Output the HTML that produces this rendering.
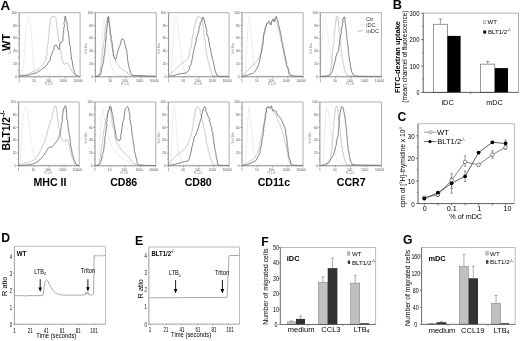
<!DOCTYPE html>
<html><head><meta charset="utf-8"><title>Figure</title>
<style>html,body{margin:0;padding:0;background:#fff;width:520px;height:341px;overflow:hidden}</style>
</head><body>
<svg width="520" height="341" viewBox="0 0 520 341" style="display:block">
<defs><filter id="bl" x="0" y="0" width="100%" height="100%"><feGaussianBlur stdDeviation="0.3"/></filter></defs>
<g font-family='"Liberation Sans", sans-serif' filter="url(#bl)">
<rect width="520" height="341" fill="#fff"/>
<line x1="19.2" y1="12.7" x2="80.1" y2="12.7" stroke="#b0b0b0" stroke-width="1" />
<line x1="80.1" y1="12.7" x2="80.1" y2="76.8" stroke="#b0b0b0" stroke-width="1" />
<path d="M19.50,75.50 C19.92,75.25 21.25,76.58 22.00,74.00 C22.75,71.42 23.33,67.33 24.00,60.00 C24.67,52.67 25.25,37.30 26.00,30.00 C26.75,22.70 27.67,16.20 28.50,16.20 C29.33,16.20 30.25,23.03 31.00,30.00 C31.75,36.97 32.37,50.83 33.00,58.00 C33.63,65.17 34.13,70.08 34.80,73.00 C35.47,75.92 29.63,75.00 37.00,75.50 C44.37,76.00 72.00,75.92 79.00,76.00" fill="none" stroke="#e8e8e8" stroke-width="0.8" stroke-linejoin="round" />
<polyline points="19.50,75.50 20.01,75.44 20.68,75.39 21.49,75.32 22.38,75.28 23.33,75.13 24.29,74.92 25.25,74.80 26.17,74.70 26.98,74.45 27.83,74.10 28.71,73.81 29.57,73.44 30.35,72.92 31.14,72.45 31.97,72.12 32.74,71.76 33.44,71.37 34.34,70.98 35.23,70.69 36.01,70.31 36.71,69.87 37.39,69.47 38.06,69.09 38.90,68.48 39.59,67.84 40.24,67.19 40.93,66.44 41.56,65.96 42.21,65.42 42.67,64.68 43.10,63.91 43.60,63.22 44.08,62.55 44.55,61.87 44.99,61.31 45.42,60.70 45.86,59.84 45.95,58.46 45.91,57.84 46.02,57.19 46.13,56.49 46.36,55.75 46.68,54.98 46.99,54.17 47.28,53.31 47.22,52.39 46.84,51.42 46.89,50.48 47.13,49.54 47.35,48.60 47.54,47.65 47.55,46.69 47.57,45.94 47.67,45.16 47.77,44.36 47.84,43.53 47.91,42.69 48.15,41.85 48.38,41.00 48.35,40.12 48.32,39.24 48.42,38.37 48.49,37.51 48.39,36.65 48.35,35.80 48.65,35.00 48.94,34.23 49.14,33.47 49.34,32.75 49.35,32.04 49.29,31.00 49.25,30.00 49.22,29.03 49.19,28.08 49.28,27.19 49.62,26.36 49.89,25.55 49.99,24.77 50.08,24.02 50.11,23.30 50.14,22.62 50.07,21.96 49.89,20.57 50.38,19.54 50.72,18.69 50.93,17.95 51.26,17.26 52.34,16.52 53.48,16.63 54.25,16.60 55.04,16.61 55.99,17.66 56.07,18.23 56.10,18.81 56.11,19.47 56.03,20.20 55.92,20.97 56.19,21.76 56.57,22.58 56.65,23.47 56.63,24.39 56.61,25.34 56.63,26.29 56.93,27.22 57.21,28.14 57.46,29.05 57.55,29.79 57.45,30.59 57.37,31.42 57.41,32.25 57.53,33.10 58.00,33.91 58.35,34.74 58.30,35.65 58.30,36.54 58.46,37.41 58.52,38.28 58.43,39.16 58.56,40.00 59.02,40.75 59.32,41.51 59.30,42.28 59.28,43.01 59.50,43.67 59.82,44.67 59.91,45.62 59.98,46.52 60.01,47.36 60.06,48.16 60.22,48.90 60.38,49.62 60.49,50.34 60.60,51.05 60.75,51.76 60.93,52.48 61.17,53.37 61.42,54.26 61.49,55.18 61.39,56.12 61.44,57.00 61.56,57.84 61.79,58.62 62.08,59.33 62.33,59.99 62.68,61.11 62.88,62.17 63.07,63.11 63.46,63.79 63.87,64.28 64.70,64.19 65.52,63.53 66.44,63.09 67.36,63.20 67.80,63.60 68.33,64.26 68.76,65.14 69.16,66.07 69.54,66.98 69.92,67.68 70.40,68.35 70.84,69.05 71.21,69.82 71.61,70.58 72.09,71.30 72.61,72.06 73.17,72.87 73.76,73.67 74.37,74.41 75.04,74.99 75.60,75.50 76.54,75.90 77.52,76.01 78.39,76.00 79.00,76.00" fill="none" stroke="#b8b8b8" stroke-width="0.8" stroke-linejoin="round" />
<polyline points="19.50,76.00 20.02,75.96 20.71,75.92 21.52,75.87 22.44,75.82 23.41,75.76 24.42,75.69 25.41,75.61 26.36,75.52 27.24,75.41 28.00,75.30 28.95,75.11 29.82,74.88 30.61,74.56 31.34,74.25 32.04,73.96 32.70,73.68 33.37,73.51 34.43,73.33 35.34,73.17 36.19,72.96 37.00,72.51 37.66,72.04 38.37,71.59 39.09,71.11 39.87,70.70 40.63,70.27 41.23,69.65 41.85,69.04 42.55,68.53 43.28,68.04 44.14,67.66 44.80,67.26 45.23,66.53 45.65,65.80 46.37,65.39 47.07,64.93 47.43,64.14 47.70,63.30 48.25,62.60 48.81,61.85 49.41,61.12 49.92,60.37 50.24,59.60 50.50,58.75 50.56,57.94 50.60,57.15 50.87,56.37 51.22,55.47 51.54,54.73 51.87,53.91 52.05,52.97 52.36,52.05 52.91,51.24 53.43,50.47 53.90,49.75 54.00,48.59 53.89,47.38 54.13,46.37 54.53,45.56 55.12,45.06 56.12,45.10 57.11,45.89 57.37,46.66 57.51,47.78 58.19,48.71 58.70,49.41 58.99,49.57 59.17,49.23 59.32,48.52 59.42,47.58 59.48,46.51 59.49,45.42 59.82,44.46 60.22,43.77 60.62,42.96 61.21,42.47 61.98,42.14 62.80,40.87 62.82,40.27 62.81,39.63 62.94,38.94 63.08,38.18 63.08,37.37 63.00,36.50 62.97,35.61 62.98,34.69 63.34,33.78 63.81,32.87 63.67,31.93 63.58,31.00 63.75,30.10 63.86,29.24 63.79,28.40 63.81,27.61 64.31,26.70 64.51,25.71 64.24,24.65 64.07,23.59 64.00,22.54 64.43,21.58 64.73,20.65 64.79,19.74 64.69,18.88 64.44,18.07 64.34,17.38 64.65,16.88 64.98,16.40 65.70,16.41 65.70,17.94 65.94,19.55 66.18,20.31 66.51,21.12 66.83,21.99 67.13,22.93 67.18,23.97 67.06,24.79 67.23,25.60 67.59,26.43 67.54,27.34 67.29,28.28 67.50,29.15 67.85,29.99 68.07,30.83 68.27,31.65 68.35,32.49 68.41,33.34 68.54,34.19 68.69,35.06 68.78,35.98 68.86,36.82 68.99,37.70 69.12,38.61 69.18,39.54 69.24,40.46 69.27,41.36 69.32,42.22 69.39,43.02 69.58,43.96 69.92,44.79 70.17,45.58 70.28,46.37 70.38,47.19 70.44,48.08 70.49,48.89 70.53,49.72 70.59,50.57 70.68,51.43 70.84,52.29 71.18,53.12 71.31,53.96 71.02,54.82 70.90,55.63 71.24,56.37 71.55,57.13 71.40,58.00 71.32,58.94 71.85,59.89 72.17,60.58 72.26,61.37 72.35,62.22 72.43,63.11 72.53,64.02 72.69,64.92 72.87,65.81 73.08,66.67 73.22,67.51 73.29,68.30 73.43,69.02 73.93,69.97 74.17,70.91 74.26,71.84 74.58,72.63 74.98,73.30 75.30,73.93 75.57,74.53 76.59,75.35 77.65,75.76 78.40,76.00" fill="none" stroke="#585858" stroke-width="0.8" stroke-linejoin="round" />
<line x1="19.2" y1="12.7" x2="19.2" y2="76.8" stroke="#808080" stroke-width="0.9" />
<line x1="19.2" y1="76.8" x2="80.1" y2="76.8" stroke="#808080" stroke-width="0.9" />
<line x1="17.599999999999998" y1="76.8" x2="19.2" y2="76.8" stroke="#777" stroke-width="0.6" />
<text x="16.9" y="77.89999999999999" font-size="3.3" text-anchor="end" fill="#555" >0</text>
<line x1="18.2" y1="70.39" x2="19.2" y2="70.39" stroke="#777" stroke-width="0.6" />
<line x1="17.599999999999998" y1="63.98" x2="19.2" y2="63.98" stroke="#777" stroke-width="0.6" />
<text x="16.9" y="65.08" font-size="3.3" text-anchor="end" fill="#555" >20</text>
<line x1="18.2" y1="57.57" x2="19.2" y2="57.57" stroke="#777" stroke-width="0.6" />
<line x1="17.599999999999998" y1="51.16" x2="19.2" y2="51.16" stroke="#777" stroke-width="0.6" />
<text x="16.9" y="52.26" font-size="3.3" text-anchor="end" fill="#555" >40</text>
<line x1="18.2" y1="44.75" x2="19.2" y2="44.75" stroke="#777" stroke-width="0.6" />
<line x1="17.599999999999998" y1="38.34" x2="19.2" y2="38.34" stroke="#777" stroke-width="0.6" />
<text x="16.9" y="39.440000000000005" font-size="3.3" text-anchor="end" fill="#555" >60</text>
<line x1="18.2" y1="31.930000000000007" x2="19.2" y2="31.930000000000007" stroke="#777" stroke-width="0.6" />
<line x1="17.599999999999998" y1="25.520000000000003" x2="19.2" y2="25.520000000000003" stroke="#777" stroke-width="0.6" />
<text x="16.9" y="26.620000000000005" font-size="3.3" text-anchor="end" fill="#555" >80</text>
<line x1="18.2" y1="19.11" x2="19.2" y2="19.11" stroke="#777" stroke-width="0.6" />
<line x1="17.599999999999998" y1="12.700000000000003" x2="19.2" y2="12.700000000000003" stroke="#777" stroke-width="0.6" />
<text x="16.9" y="13.800000000000002" font-size="3.3" text-anchor="end" fill="#555" >100</text>
<line x1="19.2" y1="76.8" x2="19.2" y2="78.3" stroke="#777" stroke-width="0.6" />
<text x="19.2" y="82.0" font-size="3.3" text-anchor="middle" fill="#555" >1</text>
<line x1="34.425" y1="76.8" x2="34.425" y2="78.3" stroke="#777" stroke-width="0.6" />
<text x="33.925" y="82.0" font-size="3.3" text-anchor="middle" fill="#555" >10</text>
<line x1="49.64999999999999" y1="76.8" x2="49.64999999999999" y2="78.3" stroke="#777" stroke-width="0.6" />
<text x="48.64999999999999" y="82.0" font-size="3.3" text-anchor="middle" fill="#555" >100</text>
<line x1="64.875" y1="76.8" x2="64.875" y2="78.3" stroke="#777" stroke-width="0.6" />
<text x="63.375" y="82.0" font-size="3.3" text-anchor="middle" fill="#555" >1000</text>
<line x1="80.1" y1="76.8" x2="80.1" y2="78.3" stroke="#777" stroke-width="0.6" />
<text x="78.1" y="82.0" font-size="3.3" text-anchor="middle" fill="#555" >10000</text>
<text x="48.65" y="84.8" font-size="2.8" text-anchor="middle" fill="#888" >FL1-H</text>
<text x="0" y="0" font-size="2.8" text-anchor="middle" fill="#888" transform="translate(10.7,48.75) rotate(-90)" >% of Max</text>
<line x1="95.3" y1="12.7" x2="156.3" y2="12.7" stroke="#b0b0b0" stroke-width="1" />
<line x1="156.3" y1="12.7" x2="156.3" y2="76.8" stroke="#b0b0b0" stroke-width="1" />
<path d="M95.50,76.00 C96.08,75.83 98.17,76.00 99.00,75.00 C99.83,74.00 100.00,75.83 100.50,70.00 C101.00,64.17 101.47,48.50 102.00,40.00 C102.53,31.50 103.12,20.67 103.70,19.00 C104.28,17.33 104.78,24.83 105.50,30.00 C106.22,35.17 107.08,44.33 108.00,50.00 C108.92,55.67 109.95,60.25 111.00,64.00 C112.05,67.75 113.13,70.58 114.30,72.50 C115.47,74.42 111.05,74.92 118.00,75.50 C124.95,76.08 149.67,75.92 156.00,76.00" fill="none" stroke="#e8e8e8" stroke-width="0.8" stroke-linejoin="round" />
<polyline points="95.50,76.00 96.17,76.21 97.15,76.59 98.20,76.55 99.10,75.50 99.29,75.06 99.39,74.52 99.51,73.94 99.62,73.30 99.78,72.62 100.01,71.90 100.22,71.14 100.35,70.32 100.48,69.47 100.65,68.59 100.79,67.69 100.84,66.75 101.00,65.82 101.29,64.89 101.41,63.93 101.47,62.97 101.78,62.04 102.02,61.34 102.00,60.58 101.95,59.80 101.99,59.01 102.06,58.21 102.21,57.40 102.42,56.58 102.54,55.74 102.59,54.88 102.58,54.01 102.51,53.13 102.63,52.27 102.89,51.42 102.95,50.55 102.89,49.67 103.07,48.83 103.36,48.00 103.39,47.16 103.29,46.32 103.38,45.51 103.56,44.73 103.64,43.95 103.61,43.19 103.69,42.29 103.92,41.41 104.16,40.54 104.39,39.67 104.52,38.79 104.60,37.92 104.54,37.04 104.42,36.17 104.39,35.32 104.40,34.48 104.61,33.69 104.94,32.92 105.07,32.16 105.01,31.39 104.98,30.64 105.06,29.94 105.13,29.25 105.34,28.61 105.56,28.01 105.67,26.89 105.52,25.81 105.94,24.89 106.35,24.06 106.53,23.26 106.71,22.52 106.75,21.82 106.78,21.16 106.83,20.54 106.89,19.97 107.32,18.27 107.95,17.26 108.28,17.54 108.27,17.86 108.30,18.37 108.58,18.95 108.89,19.64 109.01,20.49 109.00,21.45 109.31,22.46 109.63,23.55 109.79,24.75 109.95,26.01 110.03,26.65 110.13,27.34 110.22,28.07 110.30,28.84 110.38,29.65 110.42,30.49 110.45,31.35 110.50,32.24 110.55,33.14 110.77,34.03 111.04,34.92 111.26,35.81 111.46,36.70 111.52,37.60 111.59,38.48 111.71,39.34 111.85,40.17 112.06,40.96 112.27,41.72 112.17,42.48 112.07,43.19 112.22,44.24 112.42,45.24 112.25,46.24 112.26,47.18 112.67,48.01 113.00,48.82 113.22,49.62 113.36,50.39 113.33,51.18 113.32,51.93 113.48,52.64 113.65,53.32 113.75,54.01 113.86,55.08 114.11,56.04 114.37,56.93 114.41,57.80 114.48,58.63 114.90,59.33 115.32,59.98 115.56,60.68 115.85,61.59 116.29,62.36 116.77,63.06 117.22,63.73 117.65,64.36 118.10,64.93 118.72,65.68 119.12,66.42 119.52,67.17 120.22,67.78 120.99,68.21 121.69,68.84 122.42,69.53 123.22,70.06 123.97,70.55 124.78,71.05 125.54,71.43 126.37,71.76 127.26,72.32 127.62,72.80 127.79,73.31 128.05,73.80 128.46,74.28 129.12,74.72 130.19,75.20 131.90,75.50 132.41,75.56 132.99,75.61 133.63,75.66 134.33,75.70 135.07,75.74 135.86,75.77 136.70,75.81 137.56,75.83 138.46,75.86 139.39,75.88 140.34,75.90 141.30,75.91 142.28,75.92 143.26,75.93 144.24,75.94 145.23,75.95 146.20,75.96 147.16,75.96 148.11,75.96 149.03,75.97 149.93,75.97 150.80,75.97 151.62,75.97 152.41,75.97 153.15,75.98 153.84,75.98 154.48,75.98 155.05,75.99 155.56,75.99 156.00,76.00" fill="none" stroke="#b8b8b8" stroke-width="0.8" stroke-linejoin="round" />
<polyline points="95.50,76.40 96.17,76.32 97.11,76.19 98.00,76.00 99.11,75.54 99.96,74.96 100.70,73.85 100.82,73.28 101.03,72.56 101.27,71.72 101.39,70.78 101.49,69.79 101.64,68.80 101.85,67.85 102.17,66.99 102.42,66.19 102.60,65.40 102.81,64.64 103.04,63.87 103.23,63.08 103.29,62.23 103.40,61.33 103.66,60.39 103.81,59.65 103.91,58.87 103.96,58.05 103.91,57.19 103.94,56.32 104.25,55.47 104.47,54.59 104.53,53.69 104.71,52.80 105.04,51.93 105.09,51.04 104.93,50.20 104.88,49.37 104.92,48.54 105.05,47.71 105.28,46.89 105.39,46.06 105.34,45.21 105.38,44.36 105.54,43.53 105.60,42.69 105.52,41.84 105.54,40.99 105.69,40.16 105.86,39.33 106.05,38.50 106.18,37.65 106.22,36.80 106.26,35.95 106.27,35.10 106.24,34.26 106.17,33.41 106.21,32.59 106.49,31.80 106.71,31.01 106.74,30.14 106.82,29.26 106.99,28.38 107.11,27.51 107.12,26.64 107.20,25.79 107.41,24.97 107.52,24.18 107.45,23.40 107.40,22.67 107.52,22.00 107.75,20.77 108.02,19.51 107.87,18.30 107.87,17.33 108.13,16.74 108.63,16.64 108.77,17.02 108.82,17.53 108.94,18.19 109.05,19.00 108.79,19.96 108.55,20.99 109.03,21.99 109.26,23.02 109.23,24.06 109.31,25.02 109.40,25.80 109.59,26.60 109.79,27.41 110.04,28.25 110.30,29.09 110.10,29.99 109.82,30.90 110.04,31.76 110.32,32.62 110.26,33.50 110.21,34.38 110.58,35.19 110.95,35.99 110.95,36.83 110.96,37.67 110.87,38.52 110.79,39.37 110.89,40.19 111.00,41.01 111.41,41.78 111.87,42.53 112.07,43.33 112.20,44.14 112.21,44.97 112.18,45.82 112.19,46.69 112.22,47.58 112.36,48.46 112.55,49.33 112.67,50.21 112.77,51.06 113.00,51.86 113.25,52.61 113.29,53.34 113.27,54.02 113.27,54.63 113.50,55.99 113.91,56.85 114.32,57.42 114.71,57.95 115.43,59.13 115.82,59.19 115.91,58.91 116.16,58.31 116.49,57.57 116.78,56.70 116.69,55.69 116.81,54.71 117.21,53.82 117.42,52.98 117.54,52.14 117.79,51.30 118.11,50.47 118.36,49.63 118.57,48.82 118.80,48.06 119.02,47.38 119.24,46.81 119.76,45.89 120.05,45.37 120.21,44.57 120.33,43.80 120.68,42.98 121.04,42.12 121.13,41.23 121.27,40.48 121.95,39.04 122.80,38.67 123.07,39.13 123.49,39.80 124.24,40.57 124.48,41.53 124.40,42.47 124.58,43.38 124.80,44.23 125.17,45.05 125.58,45.93 125.60,46.73 125.62,47.52 125.88,48.30 126.20,49.16 126.65,50.13 126.97,50.83 126.89,51.65 126.78,52.53 126.97,53.39 127.20,54.27 127.28,55.19 127.37,56.10 127.46,56.99 127.53,57.78 127.50,58.60 127.48,59.41 127.69,60.21 127.89,61.01 128.02,61.82 128.14,62.62 128.24,63.42 128.34,64.21 128.65,65.07 129.03,65.94 128.99,66.90 128.97,67.85 129.36,68.68 129.70,69.48 129.81,70.29 129.95,71.02 130.39,71.98 130.76,72.83 131.07,73.58 131.45,74.22 131.94,74.74 132.58,75.13 133.33,75.38 134.18,75.49 135.07,75.55 136.00,75.60 136.81,75.63 137.67,75.60 138.56,75.56 139.46,75.51 140.34,75.48 141.20,75.50 141.96,75.58 142.64,75.69 143.30,75.83 144.03,75.97 144.90,76.10 146.00,76.20 146.68,76.23 147.48,76.26 148.37,76.29 149.32,76.31 150.30,76.33 151.30,76.34 152.28,76.36 153.21,76.37 154.08,76.38 154.85,76.38 155.50,76.39 156.00,76.40" fill="none" stroke="#585858" stroke-width="0.8" stroke-linejoin="round" />
<line x1="95.3" y1="12.7" x2="95.3" y2="76.8" stroke="#808080" stroke-width="0.9" />
<line x1="95.3" y1="76.8" x2="156.3" y2="76.8" stroke="#808080" stroke-width="0.9" />
<line x1="93.7" y1="76.8" x2="95.3" y2="76.8" stroke="#777" stroke-width="0.6" />
<text x="93.0" y="77.89999999999999" font-size="3.3" text-anchor="end" fill="#555" >0</text>
<line x1="94.3" y1="70.39" x2="95.3" y2="70.39" stroke="#777" stroke-width="0.6" />
<line x1="93.7" y1="63.98" x2="95.3" y2="63.98" stroke="#777" stroke-width="0.6" />
<text x="93.0" y="65.08" font-size="3.3" text-anchor="end" fill="#555" >20</text>
<line x1="94.3" y1="57.57" x2="95.3" y2="57.57" stroke="#777" stroke-width="0.6" />
<line x1="93.7" y1="51.16" x2="95.3" y2="51.16" stroke="#777" stroke-width="0.6" />
<text x="93.0" y="52.26" font-size="3.3" text-anchor="end" fill="#555" >40</text>
<line x1="94.3" y1="44.75" x2="95.3" y2="44.75" stroke="#777" stroke-width="0.6" />
<line x1="93.7" y1="38.34" x2="95.3" y2="38.34" stroke="#777" stroke-width="0.6" />
<text x="93.0" y="39.440000000000005" font-size="3.3" text-anchor="end" fill="#555" >60</text>
<line x1="94.3" y1="31.930000000000007" x2="95.3" y2="31.930000000000007" stroke="#777" stroke-width="0.6" />
<line x1="93.7" y1="25.520000000000003" x2="95.3" y2="25.520000000000003" stroke="#777" stroke-width="0.6" />
<text x="93.0" y="26.620000000000005" font-size="3.3" text-anchor="end" fill="#555" >80</text>
<line x1="94.3" y1="19.11" x2="95.3" y2="19.11" stroke="#777" stroke-width="0.6" />
<line x1="93.7" y1="12.700000000000003" x2="95.3" y2="12.700000000000003" stroke="#777" stroke-width="0.6" />
<text x="93.0" y="13.800000000000002" font-size="3.3" text-anchor="end" fill="#555" >100</text>
<line x1="95.3" y1="76.8" x2="95.3" y2="78.3" stroke="#777" stroke-width="0.6" />
<text x="95.3" y="82.0" font-size="3.3" text-anchor="middle" fill="#555" >1</text>
<line x1="110.55" y1="76.8" x2="110.55" y2="78.3" stroke="#777" stroke-width="0.6" />
<text x="110.05" y="82.0" font-size="3.3" text-anchor="middle" fill="#555" >10</text>
<line x1="125.80000000000001" y1="76.8" x2="125.80000000000001" y2="78.3" stroke="#777" stroke-width="0.6" />
<text x="124.80000000000001" y="82.0" font-size="3.3" text-anchor="middle" fill="#555" >100</text>
<line x1="141.05" y1="76.8" x2="141.05" y2="78.3" stroke="#777" stroke-width="0.6" />
<text x="139.55" y="82.0" font-size="3.3" text-anchor="middle" fill="#555" >1000</text>
<line x1="156.3" y1="76.8" x2="156.3" y2="78.3" stroke="#777" stroke-width="0.6" />
<text x="154.3" y="82.0" font-size="3.3" text-anchor="middle" fill="#555" >10000</text>
<text x="124.80000000000001" y="84.8" font-size="2.8" text-anchor="middle" fill="#888" >FL1-H</text>
<text x="0" y="0" font-size="2.8" text-anchor="middle" fill="#888" transform="translate(86.8,48.75) rotate(-90)" >% of Max</text>
<line x1="168.6" y1="12.7" x2="229.0" y2="12.7" stroke="#b0b0b0" stroke-width="1" />
<line x1="229.0" y1="12.7" x2="229.0" y2="76.8" stroke="#b0b0b0" stroke-width="1" />
<path d="M168.80,76.00 C169.08,75.67 169.97,76.67 170.50,74.00 C171.03,71.33 171.50,66.50 172.00,60.00 C172.50,53.50 173.00,41.67 173.50,35.00 C174.00,28.33 174.50,23.00 175.00,20.00 C175.50,17.00 176.00,16.17 176.50,17.00 C177.00,17.83 177.42,20.33 178.00,25.00 C178.58,29.67 179.33,39.17 180.00,45.00 C180.67,50.83 181.33,56.00 182.00,60.00 C182.67,64.00 183.17,66.67 184.00,69.00 C184.83,71.33 186.00,72.83 187.00,74.00 C188.00,75.17 183.00,75.67 190.00,76.00 C197.00,76.33 222.50,76.00 229.00,76.00" fill="none" stroke="#e8e8e8" stroke-width="0.8" stroke-linejoin="round" />
<polyline points="168.80,75.50 169.22,75.12 169.73,74.50 170.35,73.79 171.06,73.06 171.62,72.64 172.25,72.23 172.88,71.73 173.50,71.13 174.20,70.55 174.95,69.94 175.52,69.39 176.11,68.76 176.75,68.09 177.41,67.41 178.18,66.84 178.91,66.27 179.49,65.62 180.03,65.03 180.70,64.31 181.40,63.69 182.11,63.17 182.81,62.75 183.50,62.45 184.11,62.16 184.80,61.40 185.29,60.87 185.90,60.40 186.44,59.93 187.01,59.45 187.58,58.86 188.13,58.06 188.47,57.41 188.76,56.67 189.02,55.85 189.16,54.95 189.21,53.97 189.34,52.96 189.45,52.17 189.64,51.36 189.84,50.52 190.17,49.67 190.52,48.80 190.69,47.88 190.88,46.95 191.18,46.04 191.40,45.29 191.52,44.51 191.64,43.71 191.82,42.91 191.98,42.11 191.91,41.25 191.82,40.39 191.96,39.57 192.10,38.76 192.36,37.97 192.63,37.20 192.84,36.41 193.04,35.62 193.10,34.80 193.11,33.97 193.38,33.20 193.77,32.44 193.82,31.62 193.62,30.76 193.68,29.94 194.02,29.16 194.23,28.33 194.27,27.46 194.45,26.61 194.78,25.79 195.02,24.97 195.18,24.17 195.29,23.39 195.34,22.66 195.42,21.98 195.84,20.82 196.27,19.80 196.69,18.94 196.77,18.12 196.93,17.42 197.97,16.81 199.04,16.98 199.90,17.11 200.70,17.84 200.98,18.52 201.22,19.33 201.63,20.18 202.02,21.06 202.39,21.87 202.65,22.53 202.63,23.15 202.57,23.83 202.75,24.69 203.35,25.94 203.53,26.50 203.72,27.12 203.74,27.83 203.51,28.61 203.39,29.42 203.71,30.21 203.96,31.03 203.84,31.93 203.75,32.83 203.78,33.73 203.92,34.61 204.30,35.46 204.57,36.31 204.69,37.15 204.70,37.98 204.54,38.82 204.56,39.65 204.98,40.45 205.29,41.27 205.33,42.13 205.37,42.98 205.43,43.83 205.49,44.68 205.59,45.50 205.63,46.32 205.52,47.13 205.46,47.92 205.69,48.64 205.91,49.33 206.14,49.98 206.51,50.98 206.39,51.98 206.23,52.92 206.48,53.74 206.72,54.51 206.96,55.25 207.19,55.98 207.25,56.75 207.26,57.55 207.43,58.42 207.70,59.26 207.92,60.09 208.13,60.90 208.39,61.69 208.69,62.45 208.89,63.22 209.03,63.99 209.17,64.86 209.27,65.72 209.46,66.53 209.73,67.30 210.01,68.05 210.28,68.78 210.54,69.49 210.92,70.47 211.17,71.46 211.34,72.44 211.63,73.29 211.98,74.01 212.10,74.93 212.35,75.56 214.00,76.00 214.53,76.06 215.18,76.10 215.92,76.14 216.75,76.17 217.64,76.19 218.59,76.21 219.58,76.22 220.60,76.22 221.62,76.23 222.65,76.22 223.66,76.22 224.63,76.21 225.56,76.21 226.43,76.20 227.22,76.20 227.92,76.20 228.52,76.20 229.00,76.20" fill="none" stroke="#b8b8b8" stroke-width="0.8" stroke-linejoin="round" />
<polyline points="168.80,76.40 169.38,76.31 170.19,76.18 171.15,76.02 172.16,75.86 173.14,75.68 174.00,75.50 174.89,75.33 175.70,75.07 176.44,74.70 177.18,74.38 177.98,74.21 178.79,74.08 179.59,73.92 180.39,73.77 181.18,73.63 181.98,73.48 182.80,73.38 183.64,73.33 184.46,73.26 185.25,73.12 185.98,72.85 186.67,72.43 187.31,71.86 187.89,71.20 188.48,70.56 189.03,69.92 189.38,69.19 189.59,68.40 189.65,67.56 189.65,66.69 190.00,65.91 190.60,65.23 190.95,64.50 191.09,63.68 191.26,62.81 191.48,61.87 191.69,61.13 191.96,60.35 192.17,59.52 192.34,58.65 192.49,57.76 192.65,56.87 192.74,55.99 192.81,55.11 193.05,54.25 193.33,53.39 193.33,52.49 193.31,51.57 193.81,50.76 194.30,49.97 194.19,49.05 194.14,48.13 194.48,47.32 194.80,46.51 195.05,45.68 195.30,44.85 195.53,44.01 195.74,43.16 195.88,42.29 196.07,41.43 196.36,40.59 196.41,39.70 196.07,38.71 196.18,37.83 196.84,37.08 197.26,36.27 197.46,35.41 197.65,34.55 197.83,33.68 198.22,32.87 198.71,32.08 198.72,31.16 198.58,30.19 198.85,29.33 199.20,28.49 199.13,27.56 199.10,26.65 199.62,25.93 200.16,25.10 200.12,24.14 200.15,23.23 200.41,22.40 200.79,21.65 201.57,21.05 202.25,20.15 202.23,18.96 202.37,17.93 202.58,17.19 202.91,16.96 203.17,17.29 203.40,17.96 203.80,18.84 204.36,19.82 204.54,20.91 204.64,21.94 204.65,22.79 204.90,23.59 205.49,24.34 205.73,25.19 205.58,26.16 205.83,27.05 206.35,27.90 206.42,28.75 206.34,29.67 206.61,30.53 206.97,31.38 206.80,32.35 206.59,33.33 206.89,34.19 207.20,35.04 207.60,35.86 207.99,36.68 208.36,37.50 208.63,38.34 208.66,39.23 208.72,40.12 208.81,41.01 209.00,41.88 209.28,42.64 209.45,43.42 209.47,44.24 209.51,45.07 209.59,45.88 209.72,46.68 210.00,47.45 210.28,48.21 210.49,48.98 210.71,49.84 210.75,50.74 210.83,51.62 211.14,52.45 211.40,53.29 211.47,54.18 211.59,55.05 211.91,55.90 212.11,56.67 212.09,57.50 212.14,58.31 212.48,59.07 212.82,59.83 213.05,60.61 213.28,61.39 213.35,62.19 213.42,63.00 213.65,63.87 213.89,64.76 214.10,65.66 214.28,66.55 214.39,67.44 214.51,68.31 214.65,69.14 214.85,69.92 215.39,70.82 215.74,71.76 215.92,72.71 216.23,73.55 216.58,74.28 216.93,74.89 217.30,75.71 217.71,76.13 219.00,76.40 219.59,76.46 220.33,76.51 221.18,76.55 222.12,76.57 223.11,76.59 224.13,76.59 225.14,76.60 226.11,76.60 227.02,76.59 227.82,76.59 228.49,76.59 229.00,76.60" fill="none" stroke="#585858" stroke-width="0.8" stroke-linejoin="round" />
<line x1="168.6" y1="12.7" x2="168.6" y2="76.8" stroke="#808080" stroke-width="0.9" />
<line x1="168.6" y1="76.8" x2="229.0" y2="76.8" stroke="#808080" stroke-width="0.9" />
<line x1="167.0" y1="76.8" x2="168.6" y2="76.8" stroke="#777" stroke-width="0.6" />
<text x="166.29999999999998" y="77.89999999999999" font-size="3.3" text-anchor="end" fill="#555" >0</text>
<line x1="167.6" y1="70.39" x2="168.6" y2="70.39" stroke="#777" stroke-width="0.6" />
<line x1="167.0" y1="63.98" x2="168.6" y2="63.98" stroke="#777" stroke-width="0.6" />
<text x="166.29999999999998" y="65.08" font-size="3.3" text-anchor="end" fill="#555" >20</text>
<line x1="167.6" y1="57.57" x2="168.6" y2="57.57" stroke="#777" stroke-width="0.6" />
<line x1="167.0" y1="51.16" x2="168.6" y2="51.16" stroke="#777" stroke-width="0.6" />
<text x="166.29999999999998" y="52.26" font-size="3.3" text-anchor="end" fill="#555" >40</text>
<line x1="167.6" y1="44.75" x2="168.6" y2="44.75" stroke="#777" stroke-width="0.6" />
<line x1="167.0" y1="38.34" x2="168.6" y2="38.34" stroke="#777" stroke-width="0.6" />
<text x="166.29999999999998" y="39.440000000000005" font-size="3.3" text-anchor="end" fill="#555" >60</text>
<line x1="167.6" y1="31.930000000000007" x2="168.6" y2="31.930000000000007" stroke="#777" stroke-width="0.6" />
<line x1="167.0" y1="25.520000000000003" x2="168.6" y2="25.520000000000003" stroke="#777" stroke-width="0.6" />
<text x="166.29999999999998" y="26.620000000000005" font-size="3.3" text-anchor="end" fill="#555" >80</text>
<line x1="167.6" y1="19.11" x2="168.6" y2="19.11" stroke="#777" stroke-width="0.6" />
<line x1="167.0" y1="12.700000000000003" x2="168.6" y2="12.700000000000003" stroke="#777" stroke-width="0.6" />
<text x="166.29999999999998" y="13.800000000000002" font-size="3.3" text-anchor="end" fill="#555" >100</text>
<line x1="168.6" y1="76.8" x2="168.6" y2="78.3" stroke="#777" stroke-width="0.6" />
<text x="168.6" y="82.0" font-size="3.3" text-anchor="middle" fill="#555" >1</text>
<line x1="183.7" y1="76.8" x2="183.7" y2="78.3" stroke="#777" stroke-width="0.6" />
<text x="183.2" y="82.0" font-size="3.3" text-anchor="middle" fill="#555" >10</text>
<line x1="198.8" y1="76.8" x2="198.8" y2="78.3" stroke="#777" stroke-width="0.6" />
<text x="197.8" y="82.0" font-size="3.3" text-anchor="middle" fill="#555" >100</text>
<line x1="213.9" y1="76.8" x2="213.9" y2="78.3" stroke="#777" stroke-width="0.6" />
<text x="212.4" y="82.0" font-size="3.3" text-anchor="middle" fill="#555" >1000</text>
<line x1="229.0" y1="76.8" x2="229.0" y2="78.3" stroke="#777" stroke-width="0.6" />
<text x="227.0" y="82.0" font-size="3.3" text-anchor="middle" fill="#555" >10000</text>
<text x="197.8" y="84.8" font-size="2.8" text-anchor="middle" fill="#888" >FL1-H</text>
<text x="0" y="0" font-size="2.8" text-anchor="middle" fill="#888" transform="translate(160.1,48.75) rotate(-90)" >% of Max</text>
<line x1="242.0" y1="12.7" x2="303.1" y2="12.7" stroke="#b0b0b0" stroke-width="1" />
<line x1="303.1" y1="12.7" x2="303.1" y2="76.8" stroke="#b0b0b0" stroke-width="1" />
<path d="M242.30,76.00 C242.75,75.67 244.30,77.50 245.00,74.00 C245.70,70.50 246.00,63.17 246.50,55.00 C247.00,46.83 247.57,31.47 248.00,25.00 C248.43,18.53 248.68,16.20 249.10,16.20 C249.52,16.20 250.02,20.20 250.50,25.00 C250.98,29.80 251.42,38.67 252.00,45.00 C252.58,51.33 253.33,58.50 254.00,63.00 C254.67,67.50 255.17,69.92 256.00,72.00 C256.83,74.08 251.17,74.83 259.00,75.50 C266.83,76.17 295.67,75.92 303.00,76.00" fill="none" stroke="#e8e8e8" stroke-width="0.8" stroke-linejoin="round" />
<polyline points="242.30,75.50 242.82,75.10 243.46,74.43 244.22,73.70 244.96,72.96 245.47,72.36 246.01,71.76 246.66,71.24 247.34,70.68 248.03,70.03 248.55,69.51 249.07,68.93 249.60,68.32 250.20,67.73 250.80,67.14 251.32,66.48 251.84,65.84 252.57,65.40 253.35,64.98 253.92,64.34 254.47,63.69 255.01,63.07 255.50,62.49 255.99,61.99 256.71,61.26 257.20,60.55 257.60,59.83 258.04,59.02 258.43,58.32 258.82,57.61 259.21,56.85 259.62,56.00 260.02,55.01 260.26,54.29 260.50,53.51 260.73,52.67 260.95,51.78 261.13,50.86 261.30,49.92 261.43,48.96 261.62,48.02 261.82,47.27 261.95,46.49 261.99,45.68 262.01,44.86 262.01,44.02 262.05,43.18 262.21,42.37 262.42,41.57 262.83,40.80 263.16,40.03 263.02,39.17 262.92,38.30 263.17,37.49 263.42,36.67 263.66,35.86 263.91,35.06 264.17,34.28 264.43,33.52 264.26,32.70 264.08,31.91 264.30,30.92 264.64,29.99 264.90,29.07 265.15,28.20 265.37,27.38 265.61,26.63 265.91,25.97 266.40,24.99 266.88,24.22 267.30,23.62 267.59,23.17 268.94,22.92 269.23,23.86 270.40,24.53 271.30,23.81 271.44,22.72 271.70,21.77 272.46,20.87 273.37,20.25 274.99,19.92 275.56,20.31 276.02,21.01 276.29,22.10 276.50,22.74 276.80,23.47 277.08,24.30 277.30,25.20 277.61,26.11 277.98,27.00 278.17,27.81 278.33,28.64 278.54,29.48 278.76,30.33 279.04,31.19 279.34,32.07 279.45,33.01 279.57,33.85 280.00,34.65 280.35,35.49 280.24,36.44 280.22,37.38 280.46,38.26 280.55,39.17 280.47,40.11 280.72,40.98 281.26,41.77 281.69,42.60 282.05,43.44 282.20,44.32 282.28,45.22 282.41,46.10 282.55,46.99 282.79,47.85 283.04,48.71 283.28,49.58 283.49,50.45 283.59,51.34 283.73,52.23 284.02,53.08 284.19,53.96 284.12,54.90 284.29,55.79 284.74,56.63 284.91,57.53 284.89,58.46 285.00,59.35 285.15,60.21 285.37,61.03 285.64,61.94 285.79,62.85 285.93,63.75 286.23,64.58 286.51,65.40 286.69,66.23 286.88,67.03 287.27,67.90 287.62,68.76 287.89,69.61 288.14,70.44 288.34,71.23 288.56,71.99 288.61,73.04 288.49,74.02 288.76,74.90 290.00,75.50 290.52,75.63 291.16,75.73 291.91,75.83 292.75,75.91 293.65,75.98 294.60,76.03 295.59,76.08 296.59,76.12 297.59,76.15 298.57,76.18 299.51,76.20 300.39,76.22 301.20,76.24 301.92,76.26 302.52,76.28 303.00,76.30" fill="none" stroke="#b8b8b8" stroke-width="0.8" stroke-linejoin="round" />
<polyline points="242.30,76.40 242.98,76.29 243.96,76.12 245.04,75.93 246.00,75.70 246.78,75.44 247.51,75.23 248.21,74.86 248.99,74.47 249.76,74.20 250.62,73.95 251.54,73.78 252.39,73.51 253.05,73.08 253.82,72.42 254.41,71.76 255.02,71.02 255.58,70.38 256.14,69.66 256.67,68.89 257.09,68.05 257.41,67.18 257.82,66.36 258.21,65.49 258.42,64.47 258.67,63.62 259.03,62.76 259.37,61.86 259.65,60.92 259.84,59.96 259.95,59.14 260.10,58.31 260.23,57.48 260.37,56.63 260.51,55.78 260.80,54.96 261.10,54.18 261.29,53.40 261.46,52.62 261.62,51.80 261.77,50.94 261.97,49.99 262.13,49.22 262.13,48.37 262.08,47.48 262.33,46.60 262.61,45.71 262.77,44.80 262.94,43.90 263.14,43.02 263.25,42.13 263.16,41.19 263.19,40.26 263.37,39.36 263.39,38.45 263.30,37.54 263.48,36.72 263.78,35.96 263.88,35.00 263.81,34.08 263.99,33.27 264.25,32.50 264.65,31.77 265.15,31.03 265.20,30.16 264.87,29.20 265.13,28.35 265.72,27.57 265.98,26.79 266.12,26.04 266.36,24.98 266.64,24.00 267.14,23.22 267.62,22.58 268.39,21.52 268.94,21.20 269.27,21.91 269.93,23.03 270.61,24.29 271.03,24.83 271.08,24.43 271.33,23.49 271.52,22.38 271.75,21.42 272.26,20.42 272.60,19.46 273.00,18.83 273.59,19.41 273.65,20.55 274.13,21.54 274.40,21.72 274.32,21.12 274.83,19.99 275.20,18.92 275.47,17.40 276.15,16.43 276.98,17.22 276.70,18.13 276.57,19.15 277.59,19.94 278.01,20.85 277.95,21.71 278.10,22.56 278.40,23.40 278.46,24.31 278.39,25.26 278.92,26.02 279.64,26.74 279.60,27.62 279.33,28.54 279.58,29.35 279.98,30.14 280.14,30.97 280.23,31.82 280.43,32.65 280.66,33.47 280.71,34.32 280.71,35.19 281.01,36.00 281.41,36.79 281.52,37.63 281.55,38.49 281.65,39.34 281.76,40.18 281.77,41.05 281.76,41.92 282.28,42.68 282.96,43.41 282.88,44.29 282.58,45.22 282.69,46.06 282.93,46.88 283.24,47.69 283.57,48.49 283.71,49.33 283.79,50.18 284.00,51.00 284.25,51.82 284.26,52.68 284.21,53.56 284.44,54.38 284.75,55.18 284.99,56.00 285.20,56.83 285.38,57.66 285.54,58.49 285.71,59.33 285.87,60.16 286.04,60.99 286.19,61.83 286.39,62.67 286.61,63.51 286.58,64.38 286.52,65.26 286.91,66.02 287.54,66.87 287.98,67.75 288.34,68.63 288.38,69.60 288.52,70.49 288.86,71.47 289.15,72.41 289.49,73.27 289.99,74.01 290.49,74.63 290.98,75.17 291.72,75.63 293.00,76.00 293.62,76.10 294.38,76.19 295.24,76.26 296.19,76.33 297.18,76.38 298.19,76.42 299.19,76.46 300.15,76.50 301.04,76.53 301.83,76.55 302.49,76.58 303.00,76.60" fill="none" stroke="#585858" stroke-width="0.8" stroke-linejoin="round" />
<line x1="242.0" y1="12.7" x2="242.0" y2="76.8" stroke="#808080" stroke-width="0.9" />
<line x1="242.0" y1="76.8" x2="303.1" y2="76.8" stroke="#808080" stroke-width="0.9" />
<line x1="240.4" y1="76.8" x2="242.0" y2="76.8" stroke="#777" stroke-width="0.6" />
<text x="239.7" y="77.89999999999999" font-size="3.3" text-anchor="end" fill="#555" >0</text>
<line x1="241.0" y1="70.39" x2="242.0" y2="70.39" stroke="#777" stroke-width="0.6" />
<line x1="240.4" y1="63.98" x2="242.0" y2="63.98" stroke="#777" stroke-width="0.6" />
<text x="239.7" y="65.08" font-size="3.3" text-anchor="end" fill="#555" >20</text>
<line x1="241.0" y1="57.57" x2="242.0" y2="57.57" stroke="#777" stroke-width="0.6" />
<line x1="240.4" y1="51.16" x2="242.0" y2="51.16" stroke="#777" stroke-width="0.6" />
<text x="239.7" y="52.26" font-size="3.3" text-anchor="end" fill="#555" >40</text>
<line x1="241.0" y1="44.75" x2="242.0" y2="44.75" stroke="#777" stroke-width="0.6" />
<line x1="240.4" y1="38.34" x2="242.0" y2="38.34" stroke="#777" stroke-width="0.6" />
<text x="239.7" y="39.440000000000005" font-size="3.3" text-anchor="end" fill="#555" >60</text>
<line x1="241.0" y1="31.930000000000007" x2="242.0" y2="31.930000000000007" stroke="#777" stroke-width="0.6" />
<line x1="240.4" y1="25.520000000000003" x2="242.0" y2="25.520000000000003" stroke="#777" stroke-width="0.6" />
<text x="239.7" y="26.620000000000005" font-size="3.3" text-anchor="end" fill="#555" >80</text>
<line x1="241.0" y1="19.11" x2="242.0" y2="19.11" stroke="#777" stroke-width="0.6" />
<line x1="240.4" y1="12.700000000000003" x2="242.0" y2="12.700000000000003" stroke="#777" stroke-width="0.6" />
<text x="239.7" y="13.800000000000002" font-size="3.3" text-anchor="end" fill="#555" >100</text>
<line x1="242.0" y1="76.8" x2="242.0" y2="78.3" stroke="#777" stroke-width="0.6" />
<text x="242.0" y="82.0" font-size="3.3" text-anchor="middle" fill="#555" >1</text>
<line x1="257.275" y1="76.8" x2="257.275" y2="78.3" stroke="#777" stroke-width="0.6" />
<text x="256.775" y="82.0" font-size="3.3" text-anchor="middle" fill="#555" >10</text>
<line x1="272.55" y1="76.8" x2="272.55" y2="78.3" stroke="#777" stroke-width="0.6" />
<text x="271.55" y="82.0" font-size="3.3" text-anchor="middle" fill="#555" >100</text>
<line x1="287.82500000000005" y1="76.8" x2="287.82500000000005" y2="78.3" stroke="#777" stroke-width="0.6" />
<text x="286.32500000000005" y="82.0" font-size="3.3" text-anchor="middle" fill="#555" >1000</text>
<line x1="303.1" y1="76.8" x2="303.1" y2="78.3" stroke="#777" stroke-width="0.6" />
<text x="301.1" y="82.0" font-size="3.3" text-anchor="middle" fill="#555" >10000</text>
<text x="271.55" y="84.8" font-size="2.8" text-anchor="middle" fill="#888" >FL1-H</text>
<text x="0" y="0" font-size="2.8" text-anchor="middle" fill="#888" transform="translate(233.5,48.75) rotate(-90)" >% of Max</text>
<line x1="320.3" y1="12.7" x2="381.4" y2="12.7" stroke="#b0b0b0" stroke-width="1" />
<line x1="381.4" y1="12.7" x2="381.4" y2="76.8" stroke="#b0b0b0" stroke-width="1" />
<path d="M320.50,70.00 C320.67,67.50 321.12,61.67 321.50,55.00 C321.88,48.33 322.30,36.47 322.80,30.00 C323.30,23.53 324.00,17.53 324.50,16.20 C325.00,14.87 325.38,19.70 325.80,22.00 C326.22,24.30 326.55,27.00 327.00,30.00 C327.45,33.00 328.00,36.67 328.50,40.00 C329.00,43.33 329.50,47.00 330.00,50.00 C330.50,53.00 331.00,55.50 331.50,58.00 C332.00,60.50 332.50,62.83 333.00,65.00 C333.50,67.17 333.92,69.42 334.50,71.00 C335.08,72.58 335.58,73.67 336.50,74.50 C337.42,75.33 332.58,75.72 340.00,76.00 C347.42,76.28 374.17,76.17 381.00,76.20" fill="none" stroke="#e8e8e8" stroke-width="0.8" stroke-linejoin="round" />
<polyline points="320.50,76.00 321.13,75.99 322.02,75.99 323.06,75.98 324.15,75.96 325.16,75.90 326.00,75.80 326.96,75.63 327.75,75.42 328.46,75.14 329.08,74.57 329.45,73.92 329.72,73.20 329.98,72.35 330.25,71.31 330.64,70.03 330.80,69.39 330.96,68.69 331.07,67.92 331.14,67.10 331.23,66.24 331.33,65.36 331.36,64.45 331.32,63.53 331.52,62.63 331.79,61.75 331.88,60.87 331.95,60.02 331.89,59.17 331.82,58.32 331.92,57.48 332.03,56.65 332.21,55.83 332.41,55.01 332.38,54.16 332.31,53.32 332.36,52.48 332.44,51.65 332.52,50.81 332.61,49.98 332.81,49.15 333.06,48.32 333.07,47.45 333.02,46.58 333.12,45.72 333.27,44.87 333.43,44.03 333.60,43.20 333.75,42.38 333.90,41.58 333.99,40.79 334.05,40.02 334.11,39.14 334.15,38.29 334.20,37.47 334.24,36.67 334.17,35.88 333.97,35.08 333.90,34.30 334.16,33.55 334.43,32.79 334.63,32.01 334.84,31.22 334.91,30.39 334.99,29.55 334.94,28.69 334.88,27.83 335.11,27.02 335.35,26.24 335.40,25.45 335.42,24.70 335.50,24.00 335.71,22.90 335.83,21.85 335.93,20.86 336.01,19.95 336.09,19.13 336.16,18.42 336.48,16.86 337.09,16.13 337.79,16.69 337.94,17.61 337.78,19.04 337.55,19.73 337.67,20.44 338.37,21.16 338.80,21.99 338.59,22.95 338.49,23.95 338.51,24.98 338.64,26.03 338.73,26.75 338.88,27.51 339.04,28.30 339.12,29.12 339.18,29.96 339.24,30.82 339.31,31.69 339.45,32.56 339.62,33.42 339.72,34.29 339.79,35.15 339.83,36.00 339.87,36.83 339.94,37.67 340.01,38.50 340.08,39.34 340.14,40.17 340.30,41.00 340.49,41.82 340.44,42.67 340.32,43.52 340.40,44.36 340.56,45.18 340.73,46.01 340.92,46.83 341.12,47.66 341.33,48.50 341.44,49.34 341.52,50.19 341.55,51.04 341.57,51.89 341.63,52.73 341.71,53.57 341.85,54.38 342.02,55.18 342.07,55.99 342.04,56.88 342.22,57.74 342.54,58.58 342.60,59.46 342.51,60.35 342.75,61.18 343.13,61.96 343.23,62.76 343.20,63.56 343.32,64.31 343.56,64.99 343.88,66.00 344.13,66.96 344.26,67.88 344.37,68.75 344.56,69.55 344.79,70.29 345.02,70.99 345.37,71.89 345.70,72.68 346.06,73.39 346.50,73.99 347.00,74.50 347.05,75.06 346.69,75.46 347.26,75.76 350.00,76.00 350.48,76.02 351.01,76.04 351.60,76.06 352.24,76.08 352.92,76.09 353.65,76.11 354.42,76.12 355.23,76.13 356.07,76.14 356.95,76.15 357.85,76.16 358.78,76.17 359.73,76.17 360.69,76.18 361.67,76.18 362.67,76.19 363.67,76.19 364.68,76.19 365.69,76.19 366.70,76.20 367.70,76.20 368.70,76.20 369.68,76.20 370.66,76.20 371.61,76.20 372.55,76.20 373.46,76.20 374.34,76.19 375.20,76.19 376.02,76.19 376.80,76.19 377.55,76.19 378.25,76.19 378.90,76.19 379.51,76.19 380.06,76.20 380.56,76.20 381.00,76.20" fill="none" stroke="#b8b8b8" stroke-width="0.8" stroke-linejoin="round" />
<polyline points="320.50,76.60 321.12,76.56 322.01,76.50 323.04,76.43 324.08,76.36 325.00,76.30 326.03,76.25 327.02,76.22 327.93,76.16 328.70,76.00 329.72,75.43 330.58,74.57 330.94,73.86 331.35,73.10 331.85,72.28 332.27,71.29 332.49,70.52 332.72,69.70 332.96,68.82 333.24,67.91 333.53,66.96 333.81,66.00 334.03,65.26 334.23,64.48 334.43,63.68 334.62,62.86 334.83,62.04 335.18,61.25 335.51,60.48 335.59,59.67 335.67,58.75 335.65,57.77 335.76,56.84 336.20,56.01 336.52,55.20 336.69,54.39 336.88,53.65 337.32,52.69 337.83,52.02 338.41,51.35 338.75,50.24 338.76,49.57 338.73,48.82 338.66,48.02 338.72,47.19 339.10,46.37 339.34,45.52 339.37,44.65 339.38,43.79 339.38,42.97 339.44,42.09 339.58,41.23 339.72,40.37 339.86,39.52 340.02,38.67 340.21,37.83 340.34,36.97 340.41,36.09 340.54,35.31 340.73,34.53 340.99,33.76 341.35,33.00 341.56,32.22 341.36,31.37 341.21,30.53 341.35,29.74 341.48,28.96 341.70,28.09 341.94,27.21 342.28,26.35 342.50,25.47 342.36,24.55 342.42,23.68 342.86,22.92 343.12,22.16 342.81,21.01 342.85,19.88 343.12,18.84 343.49,17.96 343.80,17.29 343.97,16.82 344.42,17.05 344.80,18.12 344.99,19.46 345.02,20.12 345.02,20.83 345.05,21.60 345.14,22.44 345.29,23.37 345.54,24.41 345.68,25.10 345.82,25.85 345.86,26.66 345.72,27.52 345.71,28.40 345.94,29.29 346.15,30.19 346.34,31.12 346.32,32.07 346.20,33.03 346.48,33.81 346.83,34.60 346.87,35.45 346.81,36.32 346.81,37.19 346.83,38.07 346.98,38.94 347.15,39.81 347.31,40.67 347.47,41.52 347.45,42.37 347.42,43.21 347.61,44.08 347.82,44.93 347.93,45.78 348.03,46.63 348.18,47.46 348.32,48.29 348.17,49.15 348.01,50.01 348.29,50.83 348.60,51.64 348.55,52.51 348.47,53.39 348.65,54.27 348.84,55.15 349.03,56.05 349.17,56.95 349.18,57.85 349.24,58.74 349.39,59.58 349.53,60.40 349.66,61.17 349.79,61.90 350.13,62.93 350.32,63.90 350.35,64.83 350.43,65.69 350.54,66.50 350.70,67.27 350.91,68.02 351.14,69.04 351.33,70.00 351.53,70.90 351.75,71.72 352.07,72.45 352.64,73.49 353.10,74.41 353.70,75.10 354.58,75.64 355.70,76.00 356.14,76.12 356.45,76.21 356.96,76.28 358.03,76.34 360.00,76.40 360.53,76.41 361.13,76.42 361.79,76.43 362.52,76.44 363.30,76.45 364.14,76.46 365.01,76.47 365.92,76.48 366.86,76.49 367.82,76.50 368.79,76.51 369.78,76.52 370.77,76.52 371.76,76.53 372.73,76.54 373.69,76.55 374.63,76.55 375.54,76.56 376.41,76.57 377.25,76.57 378.03,76.58 378.76,76.58 379.43,76.59 380.03,76.59 380.55,76.60 381.00,76.60" fill="none" stroke="#585858" stroke-width="0.8" stroke-linejoin="round" />
<line x1="320.3" y1="12.7" x2="320.3" y2="76.8" stroke="#808080" stroke-width="0.9" />
<line x1="320.3" y1="76.8" x2="381.4" y2="76.8" stroke="#808080" stroke-width="0.9" />
<line x1="318.7" y1="76.8" x2="320.3" y2="76.8" stroke="#777" stroke-width="0.6" />
<text x="318.0" y="77.89999999999999" font-size="3.3" text-anchor="end" fill="#555" >0</text>
<line x1="319.3" y1="70.39" x2="320.3" y2="70.39" stroke="#777" stroke-width="0.6" />
<line x1="318.7" y1="63.98" x2="320.3" y2="63.98" stroke="#777" stroke-width="0.6" />
<text x="318.0" y="65.08" font-size="3.3" text-anchor="end" fill="#555" >20</text>
<line x1="319.3" y1="57.57" x2="320.3" y2="57.57" stroke="#777" stroke-width="0.6" />
<line x1="318.7" y1="51.16" x2="320.3" y2="51.16" stroke="#777" stroke-width="0.6" />
<text x="318.0" y="52.26" font-size="3.3" text-anchor="end" fill="#555" >40</text>
<line x1="319.3" y1="44.75" x2="320.3" y2="44.75" stroke="#777" stroke-width="0.6" />
<line x1="318.7" y1="38.34" x2="320.3" y2="38.34" stroke="#777" stroke-width="0.6" />
<text x="318.0" y="39.440000000000005" font-size="3.3" text-anchor="end" fill="#555" >60</text>
<line x1="319.3" y1="31.930000000000007" x2="320.3" y2="31.930000000000007" stroke="#777" stroke-width="0.6" />
<line x1="318.7" y1="25.520000000000003" x2="320.3" y2="25.520000000000003" stroke="#777" stroke-width="0.6" />
<text x="318.0" y="26.620000000000005" font-size="3.3" text-anchor="end" fill="#555" >80</text>
<line x1="319.3" y1="19.11" x2="320.3" y2="19.11" stroke="#777" stroke-width="0.6" />
<line x1="318.7" y1="12.700000000000003" x2="320.3" y2="12.700000000000003" stroke="#777" stroke-width="0.6" />
<text x="318.0" y="13.800000000000002" font-size="3.3" text-anchor="end" fill="#555" >100</text>
<line x1="320.3" y1="76.8" x2="320.3" y2="78.3" stroke="#777" stroke-width="0.6" />
<text x="320.3" y="82.0" font-size="3.3" text-anchor="middle" fill="#555" >1</text>
<line x1="335.575" y1="76.8" x2="335.575" y2="78.3" stroke="#777" stroke-width="0.6" />
<text x="335.075" y="82.0" font-size="3.3" text-anchor="middle" fill="#555" >10</text>
<line x1="350.85" y1="76.8" x2="350.85" y2="78.3" stroke="#777" stroke-width="0.6" />
<text x="349.85" y="82.0" font-size="3.3" text-anchor="middle" fill="#555" >100</text>
<line x1="366.125" y1="76.8" x2="366.125" y2="78.3" stroke="#777" stroke-width="0.6" />
<text x="364.625" y="82.0" font-size="3.3" text-anchor="middle" fill="#555" >1000</text>
<line x1="381.4" y1="76.8" x2="381.4" y2="78.3" stroke="#777" stroke-width="0.6" />
<text x="379.4" y="82.0" font-size="3.3" text-anchor="middle" fill="#555" >10000</text>
<text x="349.85" y="84.8" font-size="2.8" text-anchor="middle" fill="#888" >FL1-H</text>
<text x="0" y="0" font-size="2.8" text-anchor="middle" fill="#888" transform="translate(311.8,48.75) rotate(-90)" >% of Max</text>
<line x1="18.6" y1="102.0" x2="79.2" y2="102.0" stroke="#b0b0b0" stroke-width="1" />
<line x1="79.2" y1="102.0" x2="79.2" y2="165.8" stroke="#b0b0b0" stroke-width="1" />
<path d="M18.80,165.00 C19.08,164.17 20.02,165.47 20.50,160.00 C20.98,154.53 21.20,139.70 21.70,132.20 C22.20,124.70 22.72,119.38 23.50,115.00 C24.28,110.62 25.65,105.90 26.40,105.90 C27.15,105.90 27.42,110.62 28.00,115.00 C28.58,119.38 29.32,127.53 29.90,132.20 C30.48,136.87 30.92,139.50 31.50,143.00 C32.08,146.50 32.82,150.70 33.40,153.20 C33.98,155.70 34.40,156.63 35.00,158.00 C35.60,159.37 36.17,160.48 37.00,161.40 C37.83,162.32 38.67,162.93 40.00,163.50 C41.33,164.07 38.50,164.52 45.00,164.80 C51.50,165.08 73.33,165.13 79.00,165.20" fill="none" stroke="#e8e8e8" stroke-width="0.8" stroke-linejoin="round" />
<polyline points="18.80,165.00 19.28,164.87 19.91,164.70 20.66,164.51 21.50,164.29 22.39,164.06 23.31,163.75 24.23,163.46 25.13,163.19 25.99,162.96 26.83,162.74 27.70,162.46 28.58,162.15 29.48,161.88 30.35,161.60 31.19,161.25 31.98,160.92 32.74,160.65 33.43,160.35 34.32,159.87 35.05,159.29 35.57,158.59 36.04,157.90 36.53,157.23 37.04,156.53 37.54,155.78 38.04,154.98 38.53,154.18 39.01,153.39 39.46,152.63 39.86,151.92 40.34,150.97 40.89,150.18 41.38,149.37 41.69,148.39 41.97,147.54 42.30,146.66 42.65,145.75 43.00,144.84 43.50,144.00 44.04,143.21 44.57,142.44 45.03,141.61 45.17,140.61 45.40,139.60 45.66,138.87 45.84,138.08 45.93,137.24 46.21,136.43 46.77,135.69 47.01,134.88 46.83,133.98 46.92,133.04 47.37,132.20 47.61,131.31 47.73,130.39 47.93,129.48 48.17,128.56 48.51,127.80 48.89,127.03 48.94,126.15 48.96,125.25 49.49,124.53 50.05,123.83 50.18,122.99 50.28,122.16 50.62,121.43 50.99,120.73 51.30,120.00 51.59,119.24 51.86,118.46 52.11,117.63 52.34,116.85 52.58,116.03 52.52,115.13 52.21,114.18 52.39,113.31 52.83,112.52 53.06,111.73 53.19,111.00 53.44,109.90 53.70,108.85 54.05,107.94 54.33,107.15 54.49,106.48 56.00,105.92 56.14,106.50 56.26,107.17 56.53,107.96 56.71,108.86 56.63,109.86 56.74,110.87 56.99,111.88 57.11,112.88 57.21,113.82 57.24,114.68 57.29,115.56 57.37,116.41 57.44,117.24 57.44,118.06 57.49,118.87 57.77,119.63 58.05,120.39 58.06,121.20 58.06,122.02 58.31,122.83 58.58,123.65 58.37,124.56 58.10,125.47 58.31,126.31 58.54,127.12 58.90,127.88 59.25,128.59 59.40,129.28 59.50,130.24 59.48,131.12 59.45,131.95 59.71,132.66 60.15,133.30 60.44,133.99 60.38,134.94 60.43,135.85 60.67,136.70 60.97,137.49 61.35,138.17 61.98,139.14 62.61,139.96 63.22,140.62 64.22,141.23 65.33,141.26 66.06,140.36 66.51,139.42 67.73,140.38 68.03,141.00 68.29,141.70 68.57,142.65 69.03,143.96 69.15,144.61 69.22,145.38 69.34,146.22 69.55,147.10 69.75,148.02 69.95,148.96 70.06,149.92 70.15,150.86 70.41,151.72 70.67,152.50 70.87,153.21 71.19,154.33 71.51,155.30 71.81,156.17 72.10,156.97 72.38,157.74 72.65,158.52 72.99,159.45 73.34,160.33 73.66,161.17 73.98,161.95 74.34,162.64 75.01,163.58 75.71,164.31 76.50,164.80 77.40,165.11 78.34,165.23 79.00,165.30" fill="none" stroke="#b8b8b8" stroke-width="0.8" stroke-linejoin="round" />
<polyline points="18.80,165.60 19.28,165.56 19.91,165.52 20.66,165.47 21.50,165.41 22.39,165.34 23.32,165.27 24.25,165.19 25.15,165.10 26.00,165.00 26.83,164.90 27.70,164.79 28.59,164.68 29.48,164.56 30.36,164.43 31.20,164.23 31.99,164.06 32.73,163.91 33.39,163.76 34.36,163.44 35.12,163.05 35.79,162.67 36.46,162.33 37.16,161.93 37.80,161.33 38.47,160.74 39.18,160.20 39.88,159.67 40.56,159.16 41.24,158.43 41.74,157.60 42.31,156.85 42.92,156.14 43.58,155.45 44.21,154.73 44.67,153.92 45.12,153.14 45.56,152.43 45.99,151.76 46.45,151.12 46.90,150.44 47.25,149.61 47.69,148.74 48.34,148.05 48.84,147.58 49.68,147.18 50.57,147.12 51.51,147.01 52.37,146.49 52.84,145.77 53.36,145.08 53.96,144.46 54.54,143.91 55.10,143.34 55.70,142.70 56.20,142.14 56.68,141.49 57.09,140.75 57.53,140.02 58.04,139.35 58.51,138.63 58.82,137.76 59.06,136.75 59.17,135.98 59.48,135.19 60.05,134.40 60.23,133.47 60.13,132.46 60.48,131.52 60.81,130.81 60.85,130.02 60.83,129.20 60.98,128.40 61.19,127.60 61.21,126.76 61.12,125.88 61.22,125.04 61.44,124.20 61.71,123.35 62.02,122.49 62.20,121.60 62.34,120.70 62.34,119.78 62.32,118.87 62.49,118.00 62.62,117.11 62.42,116.16 62.38,115.22 62.78,114.34 63.02,113.47 63.03,112.60 63.06,111.79 63.14,111.05 63.39,110.01 63.82,109.12 64.02,108.30 64.12,107.56 64.28,106.91 65.38,105.66 65.86,106.32 65.93,107.02 66.01,107.87 66.14,108.83 66.25,109.87 66.35,110.93 66.42,112.00 66.49,112.74 66.65,113.51 66.80,114.32 66.70,115.17 66.61,116.04 66.62,116.92 66.65,117.81 66.84,118.68 67.05,119.55 67.36,120.41 67.60,121.19 67.75,121.99 67.87,122.79 67.84,123.63 67.84,124.47 68.03,125.29 68.20,126.11 68.11,126.98 68.03,127.84 68.30,128.67 68.54,129.51 68.61,130.30 68.68,131.11 68.90,131.91 69.12,132.73 69.14,133.56 69.15,134.40 69.37,135.22 69.61,136.02 69.77,136.82 69.91,137.61 69.90,138.41 69.84,139.19 69.98,140.08 70.28,140.92 70.43,141.76 70.53,142.60 70.56,143.44 70.57,144.28 70.62,145.11 70.71,145.93 70.91,146.73 71.21,147.52 71.46,148.33 71.66,149.17 71.77,150.04 71.80,150.92 71.89,151.79 72.03,152.63 72.19,153.44 72.38,154.21 72.60,154.93 72.85,155.59 73.19,156.58 73.44,157.48 73.66,158.30 73.85,159.08 74.14,159.80 74.54,160.48 74.91,161.37 75.11,162.30 75.33,163.17 75.61,163.95 76.10,164.50 77.08,165.12 78.20,165.42 79.00,165.60" fill="none" stroke="#585858" stroke-width="0.8" stroke-linejoin="round" />
<line x1="18.6" y1="102.0" x2="18.6" y2="165.8" stroke="#808080" stroke-width="0.9" />
<line x1="18.6" y1="165.8" x2="79.2" y2="165.8" stroke="#808080" stroke-width="0.9" />
<line x1="17.0" y1="165.8" x2="18.6" y2="165.8" stroke="#777" stroke-width="0.6" />
<text x="16.3" y="166.9" font-size="3.3" text-anchor="end" fill="#555" >0</text>
<line x1="17.6" y1="159.42000000000002" x2="18.6" y2="159.42000000000002" stroke="#777" stroke-width="0.6" />
<line x1="17.0" y1="153.04000000000002" x2="18.6" y2="153.04000000000002" stroke="#777" stroke-width="0.6" />
<text x="16.3" y="154.14000000000001" font-size="3.3" text-anchor="end" fill="#555" >20</text>
<line x1="17.6" y1="146.66" x2="18.6" y2="146.66" stroke="#777" stroke-width="0.6" />
<line x1="17.0" y1="140.28" x2="18.6" y2="140.28" stroke="#777" stroke-width="0.6" />
<text x="16.3" y="141.38" font-size="3.3" text-anchor="end" fill="#555" >40</text>
<line x1="17.6" y1="133.9" x2="18.6" y2="133.9" stroke="#777" stroke-width="0.6" />
<line x1="17.0" y1="127.52000000000001" x2="18.6" y2="127.52000000000001" stroke="#777" stroke-width="0.6" />
<text x="16.3" y="128.62" font-size="3.3" text-anchor="end" fill="#555" >60</text>
<line x1="17.6" y1="121.14" x2="18.6" y2="121.14" stroke="#777" stroke-width="0.6" />
<line x1="17.0" y1="114.76" x2="18.6" y2="114.76" stroke="#777" stroke-width="0.6" />
<text x="16.3" y="115.86" font-size="3.3" text-anchor="end" fill="#555" >80</text>
<line x1="17.6" y1="108.38000000000001" x2="18.6" y2="108.38000000000001" stroke="#777" stroke-width="0.6" />
<line x1="17.0" y1="102.0" x2="18.6" y2="102.0" stroke="#777" stroke-width="0.6" />
<text x="16.3" y="103.1" font-size="3.3" text-anchor="end" fill="#555" >100</text>
<line x1="18.6" y1="165.8" x2="18.6" y2="167.3" stroke="#777" stroke-width="0.6" />
<text x="18.6" y="171.0" font-size="3.3" text-anchor="middle" fill="#555" >1</text>
<line x1="33.75" y1="165.8" x2="33.75" y2="167.3" stroke="#777" stroke-width="0.6" />
<text x="33.25" y="171.0" font-size="3.3" text-anchor="middle" fill="#555" >10</text>
<line x1="48.900000000000006" y1="165.8" x2="48.900000000000006" y2="167.3" stroke="#777" stroke-width="0.6" />
<text x="47.900000000000006" y="171.0" font-size="3.3" text-anchor="middle" fill="#555" >100</text>
<line x1="64.05000000000001" y1="165.8" x2="64.05000000000001" y2="167.3" stroke="#777" stroke-width="0.6" />
<text x="62.550000000000004" y="171.0" font-size="3.3" text-anchor="middle" fill="#555" >1000</text>
<line x1="79.2" y1="165.8" x2="79.2" y2="167.3" stroke="#777" stroke-width="0.6" />
<text x="77.2" y="171.0" font-size="3.3" text-anchor="middle" fill="#555" >10000</text>
<text x="47.900000000000006" y="173.8" font-size="2.8" text-anchor="middle" fill="#888" >FL1-H</text>
<text x="0" y="0" font-size="2.8" text-anchor="middle" fill="#888" transform="translate(10.100000000000001,137.9) rotate(-90)" >% of Max</text>
<line x1="95.0" y1="102.0" x2="155.8" y2="102.0" stroke="#b0b0b0" stroke-width="1" />
<line x1="155.8" y1="102.0" x2="155.8" y2="165.8" stroke="#b0b0b0" stroke-width="1" />
<path d="M95.20,165.30 C95.50,165.17 96.35,167.05 97.00,164.50 C97.65,161.95 98.47,156.08 99.10,150.00 C99.73,143.92 100.22,134.68 100.80,128.00 C101.38,121.32 102.02,111.73 102.60,109.90 C103.18,108.07 103.72,114.07 104.30,117.00 C104.88,119.93 105.40,124.33 106.10,127.50 C106.80,130.67 107.72,133.27 108.50,136.00 C109.28,138.73 109.88,141.57 110.80,143.90 C111.72,146.23 112.80,148.15 114.00,150.00 C115.20,151.85 116.33,153.42 118.00,155.00 C119.67,156.58 122.00,158.17 124.00,159.50 C126.00,160.83 128.17,162.08 130.00,163.00 C131.83,163.92 130.75,164.58 135.00,165.00 C139.25,165.42 152.08,165.42 155.50,165.50" fill="none" stroke="#e8e8e8" stroke-width="0.8" stroke-linejoin="round" />
<polyline points="95.20,165.30 95.74,165.29 96.52,165.40 97.41,165.36 98.28,164.91 99.01,163.80 99.14,163.30 99.27,162.75 99.39,162.13 99.51,161.46 99.74,160.76 99.97,160.01 100.08,159.20 100.17,158.36 100.30,157.49 100.43,156.59 100.46,155.66 100.50,154.72 100.69,153.78 100.84,152.84 100.89,151.88 100.96,150.92 101.05,149.98 101.17,149.25 101.30,148.49 101.48,147.71 101.69,146.91 101.85,146.09 101.94,145.24 102.11,144.39 102.35,143.53 102.49,142.66 102.54,141.78 102.55,140.88 102.53,139.99 102.66,139.13 102.86,138.29 102.93,137.44 102.93,136.60 103.06,135.79 103.25,135.02 103.36,134.27 103.40,133.53 103.44,132.83 103.52,132.17 103.68,131.05 103.92,130.02 104.22,129.08 104.57,128.21 104.57,127.34 104.44,126.49 104.61,125.72 104.92,125.00 105.15,124.27 105.28,123.53 105.40,122.78 105.44,121.99 105.54,121.03 105.85,120.11 106.10,119.18 106.29,118.25 106.69,117.39 107.17,116.58 107.20,115.71 107.10,114.85 107.17,114.09 107.30,113.40 107.73,112.26 108.18,111.34 108.25,110.49 108.33,109.72 108.74,109.07 109.25,107.81 109.14,106.54 109.65,106.22 109.93,106.68 110.10,107.28 110.31,108.04 110.62,108.91 110.83,109.89 110.94,110.93 110.93,111.98 110.90,112.72 110.98,113.49 111.07,114.29 111.24,115.10 111.43,115.94 111.60,116.80 111.76,117.68 111.97,118.56 112.21,119.44 112.06,120.39 111.92,121.20 111.99,121.99 112.08,122.79 112.23,123.59 112.40,124.39 112.49,125.22 112.53,126.06 112.82,126.86 113.23,127.62 113.56,128.40 113.84,129.17 114.12,129.94 114.41,130.79 114.56,131.68 114.58,132.59 114.61,133.50 114.65,134.41 114.69,135.30 114.74,136.17 114.99,136.98 115.28,137.74 115.56,138.45 115.83,139.10 116.00,140.11 116.04,141.09 116.33,141.91 116.68,142.64 117.19,143.24 117.75,143.79 118.12,144.44 118.34,145.44 118.86,146.22 119.53,146.87 119.86,147.69 120.17,148.62 120.86,149.17 121.65,149.67 122.24,150.41 122.83,151.15 123.39,151.89 123.95,152.55 124.66,153.16 125.27,153.76 125.79,154.42 126.42,155.02 127.22,155.58 127.75,156.14 128.22,156.82 128.73,157.50 129.28,158.17 129.86,158.81 130.46,159.41 131.00,160.00 131.52,160.71 131.97,161.43 132.41,162.13 132.90,162.79 133.49,163.35 134.18,163.83 134.79,164.16 135.38,164.41 135.99,164.63 136.70,164.80 137.56,164.95 138.64,165.08 140.00,165.20 140.61,165.24 141.30,165.28 142.07,165.31 142.90,165.34 143.78,165.37 144.71,165.39 145.66,165.40 146.64,165.42 147.62,165.43 148.60,165.44 149.57,165.45 150.51,165.46 151.42,165.46 152.28,165.47 153.08,165.48 153.82,165.48 154.47,165.49 155.04,165.49 155.50,165.50" fill="none" stroke="#b8b8b8" stroke-width="0.8" stroke-linejoin="round" />
<polyline points="95.20,165.70 95.95,165.57 97.01,165.37 98.00,165.10 98.79,164.92 99.52,164.67 100.14,163.76 100.34,163.18 100.54,162.48 100.83,161.70 101.13,160.84 101.39,159.92 101.65,158.96 101.93,158.00 102.02,157.01 102.03,156.21 102.15,155.43 102.31,154.65 102.57,153.88 102.91,153.11 103.15,152.29 103.30,151.42 103.52,150.54 103.80,149.62 103.95,148.64 104.02,147.90 104.05,147.13 104.06,146.33 104.12,145.52 104.21,144.70 104.46,143.88 104.87,143.07 104.96,142.21 104.75,141.30 104.69,140.42 104.73,139.54 104.79,138.68 104.85,137.82 105.03,136.98 105.28,136.15 105.44,135.29 105.55,134.41 105.61,133.51 105.65,132.61 105.78,131.72 105.92,130.83 106.07,129.95 106.21,129.09 106.37,128.25 106.52,127.42 106.66,126.63 106.80,125.87 106.80,125.12 106.78,124.13 106.60,123.18 106.44,122.27 106.86,121.47 107.27,120.70 107.09,119.89 106.91,119.11 107.05,118.39 107.28,117.69 107.39,116.99 107.30,115.98 107.46,115.05 107.81,114.19 107.93,113.34 107.95,112.52 108.12,111.78 108.37,111.09 109.03,110.08 109.81,109.29 109.68,108.38 109.50,107.54 110.00,106.39 110.26,106.16 110.57,106.43 111.26,107.29 111.40,108.45 111.46,109.27 111.50,110.14 111.62,111.10 111.99,112.20 112.13,112.86 112.21,113.60 112.33,114.38 112.52,115.18 112.75,116.00 113.06,116.81 113.28,117.64 113.21,118.50 113.22,119.33 113.55,120.11 113.78,120.91 113.56,121.79 113.42,122.67 113.87,123.45 114.28,124.24 114.26,125.11 114.28,125.98 114.52,126.84 114.72,127.71 114.75,128.61 114.88,129.50 115.23,130.33 115.43,131.17 115.38,132.02 115.48,132.97 115.79,133.89 115.89,134.84 115.87,135.77 116.05,136.62 116.28,137.38 116.49,138.03 116.96,139.17 117.45,139.87 117.84,140.26 119.00,140.42 119.73,140.27 120.32,139.26 120.45,138.65 120.69,137.94 120.95,137.14 120.92,136.23 120.79,135.27 120.99,134.37 121.23,133.52 121.36,132.66 121.48,131.78 121.58,130.88 121.69,129.99 121.81,129.12 121.93,128.29 122.05,127.51 122.18,126.51 122.23,125.59 122.30,124.72 122.40,123.86 122.57,122.96 122.80,122.19 123.05,121.41 123.33,120.63 123.61,119.84 123.89,119.02 124.09,118.16 124.15,117.37 124.22,116.54 124.34,115.69 124.45,114.85 124.53,114.02 124.61,113.25 124.71,112.54 124.87,111.41 124.97,110.37 125.20,109.49 125.49,108.77 126.13,107.85 126.66,107.40 127.16,106.54 128.22,107.41 128.59,107.90 128.79,108.62 128.53,110.04 128.80,110.54 129.10,111.16 129.31,111.88 129.32,112.69 129.36,113.54 129.49,114.42 129.72,115.30 130.14,116.18 130.13,117.10 129.71,118.06 129.68,118.89 129.88,119.70 130.14,120.51 130.47,121.33 130.64,122.18 130.67,123.06 130.80,123.93 130.99,124.81 131.23,125.68 131.49,126.57 131.54,127.48 131.55,128.27 131.59,129.06 131.64,129.86 131.67,130.67 131.69,131.49 131.79,132.31 131.95,133.12 132.12,133.93 132.31,134.74 132.39,135.56 132.36,136.40 132.47,137.22 132.81,138.00 133.02,138.80 132.96,139.65 132.93,140.51 133.00,141.35 133.12,142.19 133.38,143.02 133.63,143.84 133.89,144.65 134.08,145.45 134.10,146.27 134.13,147.06 134.14,147.85 134.16,148.61 134.29,149.55 134.43,150.47 134.51,151.37 134.67,152.24 135.09,153.04 135.42,153.83 135.52,154.65 135.63,155.46 135.77,156.25 135.90,157.02 136.18,157.97 136.47,158.92 136.82,159.86 136.93,160.80 136.91,161.72 137.02,162.56 137.21,163.30 137.50,163.91 138.15,164.55 138.55,164.90 139.35,165.05 141.00,165.20 141.55,165.25 142.20,165.29 142.94,165.33 143.75,165.36 144.62,165.39 145.54,165.42 146.50,165.45 147.47,165.47 148.46,165.49 149.44,165.50 150.40,165.52 151.33,165.53 152.21,165.55 153.04,165.56 153.79,165.57 154.46,165.58 155.04,165.59 155.50,165.60" fill="none" stroke="#585858" stroke-width="0.8" stroke-linejoin="round" />
<line x1="95.0" y1="102.0" x2="95.0" y2="165.8" stroke="#808080" stroke-width="0.9" />
<line x1="95.0" y1="165.8" x2="155.8" y2="165.8" stroke="#808080" stroke-width="0.9" />
<line x1="93.4" y1="165.8" x2="95.0" y2="165.8" stroke="#777" stroke-width="0.6" />
<text x="92.7" y="166.9" font-size="3.3" text-anchor="end" fill="#555" >0</text>
<line x1="94.0" y1="159.42000000000002" x2="95.0" y2="159.42000000000002" stroke="#777" stroke-width="0.6" />
<line x1="93.4" y1="153.04000000000002" x2="95.0" y2="153.04000000000002" stroke="#777" stroke-width="0.6" />
<text x="92.7" y="154.14000000000001" font-size="3.3" text-anchor="end" fill="#555" >20</text>
<line x1="94.0" y1="146.66" x2="95.0" y2="146.66" stroke="#777" stroke-width="0.6" />
<line x1="93.4" y1="140.28" x2="95.0" y2="140.28" stroke="#777" stroke-width="0.6" />
<text x="92.7" y="141.38" font-size="3.3" text-anchor="end" fill="#555" >40</text>
<line x1="94.0" y1="133.9" x2="95.0" y2="133.9" stroke="#777" stroke-width="0.6" />
<line x1="93.4" y1="127.52000000000001" x2="95.0" y2="127.52000000000001" stroke="#777" stroke-width="0.6" />
<text x="92.7" y="128.62" font-size="3.3" text-anchor="end" fill="#555" >60</text>
<line x1="94.0" y1="121.14" x2="95.0" y2="121.14" stroke="#777" stroke-width="0.6" />
<line x1="93.4" y1="114.76" x2="95.0" y2="114.76" stroke="#777" stroke-width="0.6" />
<text x="92.7" y="115.86" font-size="3.3" text-anchor="end" fill="#555" >80</text>
<line x1="94.0" y1="108.38000000000001" x2="95.0" y2="108.38000000000001" stroke="#777" stroke-width="0.6" />
<line x1="93.4" y1="102.0" x2="95.0" y2="102.0" stroke="#777" stroke-width="0.6" />
<text x="92.7" y="103.1" font-size="3.3" text-anchor="end" fill="#555" >100</text>
<line x1="95.0" y1="165.8" x2="95.0" y2="167.3" stroke="#777" stroke-width="0.6" />
<text x="95.0" y="171.0" font-size="3.3" text-anchor="middle" fill="#555" >1</text>
<line x1="110.2" y1="165.8" x2="110.2" y2="167.3" stroke="#777" stroke-width="0.6" />
<text x="109.7" y="171.0" font-size="3.3" text-anchor="middle" fill="#555" >10</text>
<line x1="125.4" y1="165.8" x2="125.4" y2="167.3" stroke="#777" stroke-width="0.6" />
<text x="124.4" y="171.0" font-size="3.3" text-anchor="middle" fill="#555" >100</text>
<line x1="140.60000000000002" y1="165.8" x2="140.60000000000002" y2="167.3" stroke="#777" stroke-width="0.6" />
<text x="139.10000000000002" y="171.0" font-size="3.3" text-anchor="middle" fill="#555" >1000</text>
<line x1="155.8" y1="165.8" x2="155.8" y2="167.3" stroke="#777" stroke-width="0.6" />
<text x="153.8" y="171.0" font-size="3.3" text-anchor="middle" fill="#555" >10000</text>
<text x="124.4" y="173.8" font-size="2.8" text-anchor="middle" fill="#888" >FL1-H</text>
<text x="0" y="0" font-size="2.8" text-anchor="middle" fill="#888" transform="translate(86.5,137.9) rotate(-90)" >% of Max</text>
<line x1="168.3" y1="102.0" x2="229.1" y2="102.0" stroke="#b0b0b0" stroke-width="1" />
<line x1="229.1" y1="102.0" x2="229.1" y2="165.8" stroke="#b0b0b0" stroke-width="1" />
<path d="M168.50,165.30 C168.83,164.75 170.00,164.55 170.50,162.00 C171.00,159.45 171.17,156.17 171.50,150.00 C171.83,143.83 172.20,131.67 172.50,125.00 C172.80,118.33 173.05,113.30 173.30,110.00 C173.55,106.70 173.72,105.20 174.00,105.20 C174.28,105.20 174.58,105.87 175.00,110.00 C175.42,114.13 176.00,123.67 176.50,130.00 C177.00,136.33 177.42,143.50 178.00,148.00 C178.58,152.50 179.17,154.67 180.00,157.00 C180.83,159.33 181.67,160.75 183.00,162.00 C184.33,163.25 180.33,163.95 188.00,164.50 C195.67,165.05 222.17,165.17 229.00,165.30" fill="none" stroke="#e8e8e8" stroke-width="0.8" stroke-linejoin="round" />
<polyline points="168.50,165.00 168.81,164.54 169.20,163.91 169.69,163.16 170.17,162.31 170.73,161.46 171.33,160.66 172.04,160.03 172.69,159.42 173.20,158.65 173.80,157.94 174.53,157.37 175.22,156.79 175.86,156.21 176.42,155.62 177.10,154.81 177.87,154.20 178.64,153.69 179.40,153.19 180.15,152.68 180.75,151.97 181.38,151.30 182.05,150.70 182.71,150.15 183.38,149.67 184.10,149.05 184.69,148.39 185.29,147.75 185.95,147.12 186.54,146.45 187.08,145.73 187.59,144.90 188.05,143.87 188.29,143.16 188.52,142.36 188.90,141.55 189.27,140.68 189.44,139.75 189.63,138.83 189.90,137.97 190.21,137.20 190.61,136.51 190.96,135.82 191.11,135.04 191.25,134.21 191.35,133.26 191.59,132.20 191.91,131.54 192.20,130.81 192.33,130.00 192.43,129.15 192.38,128.24 192.45,127.33 192.90,126.48 193.10,125.57 192.94,124.61 193.09,123.71 193.45,122.87 193.63,122.02 193.74,121.16 193.79,120.27 193.83,119.36 193.91,118.45 194.01,117.54 194.52,116.71 195.01,115.91 194.92,115.04 194.84,114.22 194.89,113.46 194.95,112.78 195.02,112.16 195.29,110.75 195.60,109.81 195.88,109.11 196.21,108.46 196.66,107.53 197.02,106.71 197.51,106.27 198.19,106.81 198.77,107.96 199.14,108.51 199.50,109.12 199.88,109.90 200.30,110.95 200.25,111.71 200.19,112.55 200.31,113.43 200.46,114.35 201.07,115.19 201.56,116.06 201.67,117.03 201.75,117.96 201.78,118.78 201.87,119.57 202.02,120.33 202.22,121.09 202.57,121.82 202.91,122.56 203.10,123.37 203.27,124.21 203.24,125.14 203.22,125.91 203.47,126.65 203.72,127.41 204.05,128.16 204.39,128.93 204.60,129.74 204.76,130.57 204.88,131.42 204.99,132.28 205.11,133.13 205.24,133.99 205.45,134.78 205.70,135.58 205.77,136.43 205.78,137.31 205.94,138.17 206.16,139.01 206.27,139.88 206.36,140.73 206.40,141.58 206.43,142.40 206.59,143.18 206.78,143.92 207.07,144.86 207.35,145.75 207.62,146.61 207.89,147.45 207.89,148.32 207.89,149.17 208.16,149.95 208.45,150.71 208.68,151.48 208.92,152.35 209.06,153.23 209.19,154.11 209.55,154.90 209.92,155.66 210.07,156.45 210.20,157.21 210.39,157.90 210.73,158.90 211.13,159.76 211.52,160.53 211.94,161.24 212.35,161.96 212.44,162.89 212.30,163.73 212.54,164.47 213.90,165.00 214.43,165.08 215.07,165.15 215.82,165.21 216.64,165.25 217.54,165.29 218.50,165.31 219.50,165.33 220.52,165.33 221.56,165.34 222.59,165.34 223.61,165.33 224.59,165.32 225.53,165.31 226.40,165.31 227.20,165.30 227.91,165.29 228.52,165.29 229.00,165.30" fill="none" stroke="#b8b8b8" stroke-width="0.8" stroke-linejoin="round" />
<polyline points="168.50,165.60 169.00,165.50 169.69,165.37 170.51,165.21 171.41,165.04 172.33,164.85 173.21,164.67 174.00,164.50 174.83,164.31 175.64,164.18 176.40,163.94 177.16,163.71 177.92,163.49 178.70,163.30 179.53,163.20 180.35,163.04 181.12,162.70 181.89,162.37 182.68,162.11 183.46,161.85 184.45,161.61 185.49,161.43 186.49,161.28 187.40,161.08 188.15,160.76 188.73,160.11 189.03,159.32 189.22,158.45 189.47,157.55 189.75,156.83 190.02,156.10 190.26,155.30 190.51,154.37 190.69,153.25 190.79,152.52 191.04,151.76 191.30,150.93 191.45,150.04 191.59,149.12 191.67,148.17 191.84,147.25 192.19,146.39 192.44,145.53 192.55,144.65 192.69,143.75 192.85,142.85 193.19,141.99 193.64,141.17 193.77,140.31 193.83,139.48 193.89,138.70 193.97,137.99 194.30,136.96 194.71,136.15 195.28,135.55 195.89,134.98 196.14,134.15 196.18,133.17 196.57,132.31 197.05,131.50 197.37,130.65 197.66,129.86 197.96,128.97 198.22,128.16 198.48,127.38 198.75,126.55 198.89,125.63 199.09,124.71 199.39,123.78 199.72,122.78 199.96,122.05 200.16,121.26 200.33,120.44 200.60,119.63 200.96,118.84 201.29,118.07 201.65,117.16 201.66,116.16 201.51,115.12 201.94,114.27 202.35,113.44 202.35,112.54 202.38,111.68 202.63,110.91 202.89,110.16 203.17,109.46 203.55,108.52 203.92,107.55 204.24,106.77 204.50,106.38 204.92,106.79 205.54,107.77 206.18,108.81 205.85,109.72 205.51,110.66 205.97,111.43 206.46,112.18 206.83,112.96 207.21,113.75 207.39,114.66 207.65,115.56 208.09,116.22 208.53,116.90 208.92,117.63 209.29,118.38 209.30,119.27 209.31,120.16 209.56,121.00 209.82,121.85 210.23,122.65 210.57,123.45 210.60,124.29 210.65,125.07 210.95,125.78 211.25,126.57 211.70,127.48 212.01,128.13 211.88,128.93 211.69,129.78 211.89,130.59 212.23,131.40 212.56,132.24 212.89,133.08 212.90,133.98 212.84,134.81 212.96,135.62 213.12,136.45 213.18,137.31 213.20,138.18 213.52,139.00 213.90,139.81 213.85,140.67 213.72,141.53 213.81,142.43 213.96,143.32 214.12,144.19 214.29,145.05 214.44,145.91 214.58,146.78 214.65,147.66 214.74,148.54 214.93,149.33 215.12,150.13 215.30,150.94 215.49,151.75 215.71,152.55 215.92,153.33 215.93,154.14 215.92,154.91 216.02,155.64 216.24,156.65 216.49,157.60 216.75,158.51 216.96,159.38 217.17,160.21 217.33,161.01 217.44,161.95 217.59,162.87 217.67,163.67 217.77,164.44 218.60,165.00 219.13,165.16 219.80,165.29 220.58,165.38 221.46,165.45 222.40,165.51 223.38,165.54 224.37,165.56 225.34,165.57 226.27,165.57 227.12,165.57 227.88,165.57 228.52,165.58 229.00,165.60" fill="none" stroke="#585858" stroke-width="0.8" stroke-linejoin="round" />
<line x1="168.3" y1="102.0" x2="168.3" y2="165.8" stroke="#808080" stroke-width="0.9" />
<line x1="168.3" y1="165.8" x2="229.1" y2="165.8" stroke="#808080" stroke-width="0.9" />
<line x1="166.70000000000002" y1="165.8" x2="168.3" y2="165.8" stroke="#777" stroke-width="0.6" />
<text x="166.0" y="166.9" font-size="3.3" text-anchor="end" fill="#555" >0</text>
<line x1="167.3" y1="159.42000000000002" x2="168.3" y2="159.42000000000002" stroke="#777" stroke-width="0.6" />
<line x1="166.70000000000002" y1="153.04000000000002" x2="168.3" y2="153.04000000000002" stroke="#777" stroke-width="0.6" />
<text x="166.0" y="154.14000000000001" font-size="3.3" text-anchor="end" fill="#555" >20</text>
<line x1="167.3" y1="146.66" x2="168.3" y2="146.66" stroke="#777" stroke-width="0.6" />
<line x1="166.70000000000002" y1="140.28" x2="168.3" y2="140.28" stroke="#777" stroke-width="0.6" />
<text x="166.0" y="141.38" font-size="3.3" text-anchor="end" fill="#555" >40</text>
<line x1="167.3" y1="133.9" x2="168.3" y2="133.9" stroke="#777" stroke-width="0.6" />
<line x1="166.70000000000002" y1="127.52000000000001" x2="168.3" y2="127.52000000000001" stroke="#777" stroke-width="0.6" />
<text x="166.0" y="128.62" font-size="3.3" text-anchor="end" fill="#555" >60</text>
<line x1="167.3" y1="121.14" x2="168.3" y2="121.14" stroke="#777" stroke-width="0.6" />
<line x1="166.70000000000002" y1="114.76" x2="168.3" y2="114.76" stroke="#777" stroke-width="0.6" />
<text x="166.0" y="115.86" font-size="3.3" text-anchor="end" fill="#555" >80</text>
<line x1="167.3" y1="108.38000000000001" x2="168.3" y2="108.38000000000001" stroke="#777" stroke-width="0.6" />
<line x1="166.70000000000002" y1="102.0" x2="168.3" y2="102.0" stroke="#777" stroke-width="0.6" />
<text x="166.0" y="103.1" font-size="3.3" text-anchor="end" fill="#555" >100</text>
<line x1="168.3" y1="165.8" x2="168.3" y2="167.3" stroke="#777" stroke-width="0.6" />
<text x="168.3" y="171.0" font-size="3.3" text-anchor="middle" fill="#555" >1</text>
<line x1="183.5" y1="165.8" x2="183.5" y2="167.3" stroke="#777" stroke-width="0.6" />
<text x="183.0" y="171.0" font-size="3.3" text-anchor="middle" fill="#555" >10</text>
<line x1="198.7" y1="165.8" x2="198.7" y2="167.3" stroke="#777" stroke-width="0.6" />
<text x="197.7" y="171.0" font-size="3.3" text-anchor="middle" fill="#555" >100</text>
<line x1="213.9" y1="165.8" x2="213.9" y2="167.3" stroke="#777" stroke-width="0.6" />
<text x="212.4" y="171.0" font-size="3.3" text-anchor="middle" fill="#555" >1000</text>
<line x1="229.1" y1="165.8" x2="229.1" y2="167.3" stroke="#777" stroke-width="0.6" />
<text x="227.1" y="171.0" font-size="3.3" text-anchor="middle" fill="#555" >10000</text>
<text x="197.7" y="173.8" font-size="2.8" text-anchor="middle" fill="#888" >FL1-H</text>
<text x="0" y="0" font-size="2.8" text-anchor="middle" fill="#888" transform="translate(159.8,137.9) rotate(-90)" >% of Max</text>
<line x1="242.0" y1="102.0" x2="303.0" y2="102.0" stroke="#b0b0b0" stroke-width="1" />
<line x1="303.0" y1="102.0" x2="303.0" y2="165.8" stroke="#b0b0b0" stroke-width="1" />
<path d="M242.30,165.30 C242.75,164.92 244.30,166.38 245.00,163.00 C245.70,159.62 246.03,152.17 246.50,145.00 C246.97,137.83 247.37,126.43 247.80,120.00 C248.23,113.57 248.65,106.73 249.10,106.40 C249.55,106.07 250.02,113.23 250.50,118.00 C250.98,122.77 251.42,129.67 252.00,135.00 C252.58,140.33 253.25,145.83 254.00,150.00 C254.75,154.17 255.50,157.58 256.50,160.00 C257.50,162.42 252.25,163.62 260.00,164.50 C267.75,165.38 295.83,165.17 303.00,165.30" fill="none" stroke="#e8e8e8" stroke-width="0.8" stroke-linejoin="round" />
<polyline points="242.30,165.00 242.96,164.75 243.90,164.41 244.97,163.99 246.00,163.49 246.78,163.04 247.57,162.51 248.37,161.94 249.19,161.44 250.00,161.00 250.82,160.70 251.62,160.40 252.32,159.92 252.97,159.45 253.63,159.02 254.21,158.48 254.77,157.87 255.29,157.17 255.57,156.32 255.91,155.45 256.35,154.84 256.79,154.27 257.15,153.63 257.48,152.88 257.95,152.02 258.39,150.90 258.40,150.22 258.38,149.49 258.76,148.80 259.18,148.07 259.38,147.25 259.52,146.38 259.67,145.49 259.83,144.59 259.89,143.64 260.02,142.71 260.59,141.86 260.95,140.97 260.92,140.02 260.91,139.20 260.93,138.37 261.01,137.54 261.21,136.71 261.39,135.88 261.51,135.02 261.72,134.18 262.07,133.36 262.35,132.53 262.54,131.68 262.66,130.83 262.70,129.97 262.83,129.13 263.06,128.33 263.21,127.52 263.27,126.64 263.36,125.76 263.49,124.89 263.69,124.02 263.94,123.17 264.18,122.32 264.41,121.48 264.51,120.63 264.56,119.79 264.56,118.96 264.55,118.16 264.71,117.41 265.02,116.72 265.24,116.04 265.01,114.94 265.18,113.94 265.77,113.07 266.11,112.21 266.35,111.39 266.42,110.61 266.46,109.89 266.58,109.27 266.77,108.82 267.61,107.83 268.42,107.63 269.30,107.42 270.17,107.56 271.18,108.03 272.23,108.77 272.88,109.34 273.34,110.13 273.61,111.16 273.97,111.93 274.40,112.77 275.03,113.57 275.64,114.38 275.96,115.07 276.29,115.74 276.44,116.52 276.60,117.36 276.95,118.22 277.23,118.89 277.49,119.63 277.74,120.41 278.10,121.19 278.48,121.98 279.04,122.72 279.64,123.44 280.01,124.16 280.38,124.89 280.54,125.73 280.64,126.61 280.98,127.39 281.39,128.16 281.63,128.98 281.82,129.82 281.98,130.67 282.12,131.51 282.29,132.34 282.46,133.18 282.96,133.94 283.53,134.70 283.61,135.60 283.63,136.52 283.97,137.27 284.33,138.03 284.51,138.83 284.68,139.65 284.66,140.52 284.61,141.41 284.98,142.20 285.43,142.99 285.67,143.84 285.86,144.62 285.92,145.44 285.96,146.27 286.19,147.06 286.47,147.86 286.63,148.68 286.75,149.51 286.92,150.34 287.11,151.16 287.28,151.98 287.43,152.83 287.49,153.73 287.50,154.66 287.76,155.55 288.07,156.42 288.25,157.30 288.43,158.14 288.56,158.93 288.70,159.66 288.84,160.32 289.12,161.41 289.55,162.23 289.94,162.88 290.25,163.46 290.55,163.98 290.66,164.83 292.00,165.20 292.56,165.24 293.28,165.28 294.12,165.30 295.04,165.32 296.04,165.32 297.07,165.33 298.11,165.32 299.14,165.32 300.12,165.31 301.02,165.31 301.82,165.30 302.49,165.30 303.00,165.30" fill="none" stroke="#b8b8b8" stroke-width="0.8" stroke-linejoin="round" />
<polyline points="242.30,165.60 242.98,165.51 243.96,165.38 245.03,165.21 246.00,165.00 246.81,164.75 247.57,164.46 248.30,164.10 249.11,163.83 249.95,163.49 250.80,163.11 251.65,162.68 252.53,162.25 253.27,161.92 254.03,161.57 254.79,161.18 255.48,160.75 256.06,160.26 256.59,159.54 256.98,158.73 257.35,157.87 257.78,156.99 258.13,156.33 258.48,155.71 258.90,155.07 259.37,154.30 259.75,153.25 259.90,152.59 259.97,151.85 259.97,151.04 260.13,150.21 260.48,149.39 260.69,148.51 260.77,147.61 260.98,146.73 261.26,145.88 261.48,145.05 261.68,144.24 261.78,143.41 261.84,142.58 261.80,141.72 261.70,140.85 261.93,140.05 262.35,139.28 262.45,138.45 262.34,137.59 262.56,136.78 263.05,136.01 263.20,135.18 263.05,134.31 263.06,133.46 263.22,132.64 263.47,131.82 263.82,131.02 263.86,130.19 263.53,129.30 263.47,128.45 263.81,127.66 264.02,126.84 264.00,125.98 264.06,125.13 264.26,124.31 264.42,123.49 264.51,122.67 264.65,121.89 264.94,121.15 265.21,120.43 265.19,119.52 265.18,118.65 265.37,117.83 265.56,117.04 265.69,116.27 265.82,115.51 265.66,114.73 265.46,113.95 265.83,113.00 266.50,112.08 266.37,111.08 266.25,110.15 266.18,109.31 266.16,108.56 266.81,107.43 267.42,106.91 268.29,106.56 268.54,107.26 269.20,108.12 270.34,107.65 270.63,106.44 271.29,105.82 271.60,106.46 271.83,107.50 272.08,108.53 272.21,109.56 272.48,110.57 273.02,111.22 273.96,110.40 274.74,110.21 275.22,110.61 276.01,111.40 276.44,112.40 276.75,113.37 277.41,114.64 278.20,115.84 278.82,116.45 279.48,117.02 280.03,117.55 280.55,118.22 280.96,118.88 281.42,119.70 281.75,120.58 282.04,121.30 282.33,121.98 282.68,122.94 283.00,123.54 283.37,124.23 283.67,125.02 283.93,125.87 284.34,126.68 284.76,127.48 285.00,128.34 285.21,129.23 285.61,130.09 285.89,131.01 285.65,132.02 285.59,133.02 285.77,133.84 285.89,134.68 285.96,135.54 286.20,136.39 286.63,137.25 286.76,138.18 286.71,139.18 286.80,139.98 286.93,140.80 287.15,141.62 287.41,142.47 287.31,143.37 287.13,144.31 287.20,145.22 287.31,146.13 287.71,147.00 288.02,147.81 287.96,148.72 287.91,149.64 287.90,150.57 288.05,151.48 288.46,152.34 288.62,153.22 288.55,154.09 288.56,154.90 288.65,155.65 288.84,156.77 289.06,157.78 289.53,158.63 290.00,159.41 290.21,160.20 290.42,160.96 290.63,162.06 290.82,163.05 291.12,163.91 291.70,164.50 292.28,164.92 292.94,165.16 293.80,165.29 295.00,165.40 295.65,165.45 296.43,165.49 297.31,165.52 298.25,165.54 299.21,165.56 300.15,165.57 301.04,165.58 301.84,165.58 302.50,165.59 303.00,165.60" fill="none" stroke="#585858" stroke-width="0.8" stroke-linejoin="round" />
<line x1="242.0" y1="102.0" x2="242.0" y2="165.8" stroke="#808080" stroke-width="0.9" />
<line x1="242.0" y1="165.8" x2="303.0" y2="165.8" stroke="#808080" stroke-width="0.9" />
<line x1="240.4" y1="165.8" x2="242.0" y2="165.8" stroke="#777" stroke-width="0.6" />
<text x="239.7" y="166.9" font-size="3.3" text-anchor="end" fill="#555" >0</text>
<line x1="241.0" y1="159.42000000000002" x2="242.0" y2="159.42000000000002" stroke="#777" stroke-width="0.6" />
<line x1="240.4" y1="153.04000000000002" x2="242.0" y2="153.04000000000002" stroke="#777" stroke-width="0.6" />
<text x="239.7" y="154.14000000000001" font-size="3.3" text-anchor="end" fill="#555" >20</text>
<line x1="241.0" y1="146.66" x2="242.0" y2="146.66" stroke="#777" stroke-width="0.6" />
<line x1="240.4" y1="140.28" x2="242.0" y2="140.28" stroke="#777" stroke-width="0.6" />
<text x="239.7" y="141.38" font-size="3.3" text-anchor="end" fill="#555" >40</text>
<line x1="241.0" y1="133.9" x2="242.0" y2="133.9" stroke="#777" stroke-width="0.6" />
<line x1="240.4" y1="127.52000000000001" x2="242.0" y2="127.52000000000001" stroke="#777" stroke-width="0.6" />
<text x="239.7" y="128.62" font-size="3.3" text-anchor="end" fill="#555" >60</text>
<line x1="241.0" y1="121.14" x2="242.0" y2="121.14" stroke="#777" stroke-width="0.6" />
<line x1="240.4" y1="114.76" x2="242.0" y2="114.76" stroke="#777" stroke-width="0.6" />
<text x="239.7" y="115.86" font-size="3.3" text-anchor="end" fill="#555" >80</text>
<line x1="241.0" y1="108.38000000000001" x2="242.0" y2="108.38000000000001" stroke="#777" stroke-width="0.6" />
<line x1="240.4" y1="102.0" x2="242.0" y2="102.0" stroke="#777" stroke-width="0.6" />
<text x="239.7" y="103.1" font-size="3.3" text-anchor="end" fill="#555" >100</text>
<line x1="242.0" y1="165.8" x2="242.0" y2="167.3" stroke="#777" stroke-width="0.6" />
<text x="242.0" y="171.0" font-size="3.3" text-anchor="middle" fill="#555" >1</text>
<line x1="257.25" y1="165.8" x2="257.25" y2="167.3" stroke="#777" stroke-width="0.6" />
<text x="256.75" y="171.0" font-size="3.3" text-anchor="middle" fill="#555" >10</text>
<line x1="272.5" y1="165.8" x2="272.5" y2="167.3" stroke="#777" stroke-width="0.6" />
<text x="271.5" y="171.0" font-size="3.3" text-anchor="middle" fill="#555" >100</text>
<line x1="287.75" y1="165.8" x2="287.75" y2="167.3" stroke="#777" stroke-width="0.6" />
<text x="286.25" y="171.0" font-size="3.3" text-anchor="middle" fill="#555" >1000</text>
<line x1="303.0" y1="165.8" x2="303.0" y2="167.3" stroke="#777" stroke-width="0.6" />
<text x="301.0" y="171.0" font-size="3.3" text-anchor="middle" fill="#555" >10000</text>
<text x="271.5" y="173.8" font-size="2.8" text-anchor="middle" fill="#888" >FL1-H</text>
<text x="0" y="0" font-size="2.8" text-anchor="middle" fill="#888" transform="translate(233.5,137.9) rotate(-90)" >% of Max</text>
<line x1="319.9" y1="102.0" x2="381.5" y2="102.0" stroke="#b0b0b0" stroke-width="1" />
<line x1="381.5" y1="102.0" x2="381.5" y2="165.8" stroke="#b0b0b0" stroke-width="1" />
<path d="M320.20,165.30 C320.67,165.08 322.37,166.55 323.00,164.00 C323.63,161.45 323.63,157.00 324.00,150.00 C324.37,143.00 324.83,128.83 325.20,122.00 C325.57,115.17 325.92,111.53 326.20,109.00 C326.48,106.47 326.60,106.47 326.90,106.80 C327.20,107.13 327.57,108.80 328.00,111.00 C328.43,113.20 329.00,116.50 329.50,120.00 C330.00,123.50 330.50,128.33 331.00,132.00 C331.50,135.67 332.00,139.00 332.50,142.00 C333.00,145.00 333.42,147.50 334.00,150.00 C334.58,152.50 335.17,155.00 336.00,157.00 C336.83,159.00 337.67,160.70 339.00,162.00 C340.33,163.30 337.00,164.27 344.00,164.80 C351.00,165.33 374.83,165.13 381.00,165.20" fill="none" stroke="#e8e8e8" stroke-width="0.8" stroke-linejoin="round" />
<polyline points="320.20,165.20 320.75,165.19 321.52,165.18 322.44,165.18 323.44,165.17 324.47,165.14 325.44,165.08 326.31,164.97 327.00,164.80 327.95,164.37 328.57,163.80 329.12,163.09 329.60,162.04 329.77,161.37 329.93,160.66 330.13,159.90 330.32,159.07 330.52,158.18 330.74,157.21 330.97,156.17 330.93,154.99 330.85,154.32 330.98,153.65 331.17,152.97 331.34,152.26 331.48,151.52 331.62,150.76 331.85,149.99 332.07,149.19 331.96,148.34 331.83,147.48 331.90,146.61 331.97,145.73 332.11,144.84 332.24,143.93 332.31,143.00 332.33,142.29 332.17,141.54 331.99,140.77 332.20,140.01 332.47,139.25 332.68,138.46 332.86,137.67 332.99,136.85 333.07,136.03 333.01,135.20 332.82,134.35 332.88,133.51 333.20,132.69 333.31,131.87 333.16,131.02 333.14,130.19 333.31,129.38 333.52,128.59 333.82,127.81 334.04,127.04 333.91,126.15 333.74,125.24 333.48,124.31 333.40,123.39 333.66,122.48 333.91,121.57 334.14,120.66 334.40,119.76 334.68,118.88 334.51,117.98 334.25,117.09 334.35,116.25 334.51,115.45 334.59,114.68 334.66,113.94 334.76,113.25 334.91,112.61 335.05,112.03 335.29,110.51 335.33,109.26 335.43,108.28 335.70,107.57 335.95,107.06 335.99,106.59 336.84,106.25 337.55,107.88 337.50,108.48 337.54,109.11 337.68,109.80 337.81,110.56 337.88,111.39 337.95,112.27 338.01,113.19 338.09,114.12 338.21,115.07 338.41,116.01 338.62,116.74 338.74,117.50 338.73,118.30 338.74,119.12 338.82,119.94 338.91,120.78 339.05,121.63 339.20,122.50 339.34,123.38 339.43,124.27 339.47,125.18 339.51,126.10 339.56,127.03 339.66,127.79 339.79,128.56 339.93,129.35 340.09,130.16 340.25,130.98 340.45,131.80 340.53,132.64 340.43,133.51 340.40,134.36 340.50,135.20 340.61,136.03 340.72,136.86 340.83,137.67 340.95,138.47 341.06,139.24 341.19,140.00 341.32,140.92 341.19,141.86 341.17,142.79 341.40,143.67 341.62,144.54 341.81,145.40 341.95,146.25 342.03,147.10 342.16,147.92 342.36,148.72 342.48,149.50 342.47,150.29 342.51,151.05 342.87,151.95 343.18,152.84 343.39,153.71 343.55,154.57 343.64,155.40 343.78,156.20 343.97,156.95 344.14,157.67 344.25,158.37 344.37,159.04 344.76,160.00 345.17,160.84 345.41,161.65 345.69,162.37 346.00,163.01 346.38,163.56 346.49,164.11 346.44,164.52 347.16,164.79 350.00,165.00 350.48,165.02 351.02,165.04 351.62,165.06 352.26,165.08 352.95,165.09 353.68,165.11 354.45,165.12 355.26,165.13 356.11,165.14 356.98,165.15 357.89,165.16 358.81,165.17 359.76,165.17 360.73,165.18 361.71,165.18 362.70,165.19 363.70,165.19 364.71,165.19 365.72,165.19 366.73,165.20 367.73,165.20 368.72,165.20 369.71,165.20 370.68,165.20 371.63,165.20 372.56,165.20 373.47,165.20 374.36,165.19 375.21,165.19 376.03,165.19 376.81,165.19 377.55,165.19 378.25,165.19 378.91,165.19 379.51,165.19 380.06,165.20 380.56,165.20 381.00,165.20" fill="none" stroke="#b8b8b8" stroke-width="0.8" stroke-linejoin="round" />
<polyline points="320.20,165.50 320.90,165.50 321.92,165.47 323.00,165.30 323.83,165.03 324.72,164.66 325.54,164.12 326.38,163.77 327.30,163.22 328.10,162.60 328.81,161.81 329.35,161.16 329.87,160.46 330.42,159.75 331.02,159.04 331.50,158.45 332.01,157.83 332.41,157.12 332.58,156.27 332.86,155.44 333.30,154.82 333.72,154.19 333.95,153.45 334.17,152.67 334.42,151.84 334.69,150.92 334.91,150.18 335.14,149.38 335.22,148.50 335.30,147.59 335.55,146.70 335.83,145.81 336.24,144.94 336.48,144.06 336.44,143.23 336.47,142.42 336.65,141.64 336.80,140.86 336.87,140.05 336.96,139.23 337.21,138.44 337.47,137.63 337.74,136.81 337.98,136.04 338.14,135.23 338.29,134.41 338.31,133.57 338.31,132.72 338.37,131.87 338.44,131.02 338.51,130.18 338.57,129.34 338.62,128.51 338.67,127.69 338.81,126.89 338.97,126.09 338.96,125.27 338.89,124.46 339.01,123.66 339.25,122.87 339.32,122.06 339.27,121.23 339.19,120.39 339.08,119.52 339.10,118.64 339.26,117.76 339.49,116.89 339.77,116.03 339.93,115.16 340.02,114.31 340.06,113.47 340.08,112.68 340.18,111.95 340.42,110.95 340.71,109.97 341.03,109.05 341.22,108.18 341.40,107.44 341.60,106.86 341.67,106.59 342.00,106.71 342.93,107.74 343.28,108.38 343.43,109.23 343.57,110.17 343.73,111.17 343.91,111.85 344.13,112.57 344.25,113.36 344.18,114.22 344.29,115.11 344.78,116.00 345.00,116.72 345.04,117.48 345.09,118.26 345.16,119.07 345.25,119.92 345.43,120.81 345.58,121.76 345.63,122.80 345.67,123.53 345.72,124.30 345.79,125.10 345.90,125.92 346.03,126.77 346.18,127.64 346.30,128.52 346.38,129.41 346.44,130.31 346.48,131.22 346.64,132.10 346.90,132.97 346.91,133.80 346.78,134.67 346.86,135.53 347.08,136.40 347.12,137.28 347.09,138.17 347.20,139.04 347.36,139.90 347.34,140.76 347.28,141.59 347.36,142.40 347.48,143.16 347.57,143.89 347.68,144.89 347.84,145.82 348.02,146.70 348.09,147.56 348.15,148.39 348.17,149.20 348.18,150.00 348.47,150.74 348.88,151.47 349.03,152.35 348.96,153.25 349.05,154.12 349.21,154.96 349.38,155.76 349.56,156.52 349.74,157.23 349.93,157.87 350.16,159.01 350.24,160.01 350.57,160.81 350.95,161.52 351.28,162.43 351.60,163.22 352.15,163.82 352.16,164.31 352.29,164.70 355.00,165.00 355.48,165.02 356.04,165.05 356.65,165.07 357.32,165.09 358.04,165.11 358.81,165.13 359.62,165.15 360.48,165.17 361.37,165.18 362.28,165.20 363.23,165.21 364.19,165.23 365.18,165.24 366.17,165.25 367.17,165.26 368.18,165.28 369.18,165.29 370.18,165.30 371.16,165.31 372.13,165.31 373.09,165.32 374.02,165.33 374.92,165.34 375.78,165.35 376.61,165.35 377.40,165.36 378.14,165.37 378.84,165.37 379.47,165.38 380.05,165.39 380.56,165.39 381.00,165.40" fill="none" stroke="#585858" stroke-width="0.8" stroke-linejoin="round" />
<line x1="319.9" y1="102.0" x2="319.9" y2="165.8" stroke="#808080" stroke-width="0.9" />
<line x1="319.9" y1="165.8" x2="381.5" y2="165.8" stroke="#808080" stroke-width="0.9" />
<line x1="318.29999999999995" y1="165.8" x2="319.9" y2="165.8" stroke="#777" stroke-width="0.6" />
<text x="317.59999999999997" y="166.9" font-size="3.3" text-anchor="end" fill="#555" >0</text>
<line x1="318.9" y1="159.42000000000002" x2="319.9" y2="159.42000000000002" stroke="#777" stroke-width="0.6" />
<line x1="318.29999999999995" y1="153.04000000000002" x2="319.9" y2="153.04000000000002" stroke="#777" stroke-width="0.6" />
<text x="317.59999999999997" y="154.14000000000001" font-size="3.3" text-anchor="end" fill="#555" >20</text>
<line x1="318.9" y1="146.66" x2="319.9" y2="146.66" stroke="#777" stroke-width="0.6" />
<line x1="318.29999999999995" y1="140.28" x2="319.9" y2="140.28" stroke="#777" stroke-width="0.6" />
<text x="317.59999999999997" y="141.38" font-size="3.3" text-anchor="end" fill="#555" >40</text>
<line x1="318.9" y1="133.9" x2="319.9" y2="133.9" stroke="#777" stroke-width="0.6" />
<line x1="318.29999999999995" y1="127.52000000000001" x2="319.9" y2="127.52000000000001" stroke="#777" stroke-width="0.6" />
<text x="317.59999999999997" y="128.62" font-size="3.3" text-anchor="end" fill="#555" >60</text>
<line x1="318.9" y1="121.14" x2="319.9" y2="121.14" stroke="#777" stroke-width="0.6" />
<line x1="318.29999999999995" y1="114.76" x2="319.9" y2="114.76" stroke="#777" stroke-width="0.6" />
<text x="317.59999999999997" y="115.86" font-size="3.3" text-anchor="end" fill="#555" >80</text>
<line x1="318.9" y1="108.38000000000001" x2="319.9" y2="108.38000000000001" stroke="#777" stroke-width="0.6" />
<line x1="318.29999999999995" y1="102.0" x2="319.9" y2="102.0" stroke="#777" stroke-width="0.6" />
<text x="317.59999999999997" y="103.1" font-size="3.3" text-anchor="end" fill="#555" >100</text>
<line x1="319.9" y1="165.8" x2="319.9" y2="167.3" stroke="#777" stroke-width="0.6" />
<text x="319.9" y="171.0" font-size="3.3" text-anchor="middle" fill="#555" >1</text>
<line x1="335.29999999999995" y1="165.8" x2="335.29999999999995" y2="167.3" stroke="#777" stroke-width="0.6" />
<text x="334.79999999999995" y="171.0" font-size="3.3" text-anchor="middle" fill="#555" >10</text>
<line x1="350.7" y1="165.8" x2="350.7" y2="167.3" stroke="#777" stroke-width="0.6" />
<text x="349.7" y="171.0" font-size="3.3" text-anchor="middle" fill="#555" >100</text>
<line x1="366.1" y1="165.8" x2="366.1" y2="167.3" stroke="#777" stroke-width="0.6" />
<text x="364.6" y="171.0" font-size="3.3" text-anchor="middle" fill="#555" >1000</text>
<line x1="381.5" y1="165.8" x2="381.5" y2="167.3" stroke="#777" stroke-width="0.6" />
<text x="379.5" y="171.0" font-size="3.3" text-anchor="middle" fill="#555" >10000</text>
<text x="349.7" y="173.8" font-size="2.8" text-anchor="middle" fill="#888" >FL1-H</text>
<text x="0" y="0" font-size="2.8" text-anchor="middle" fill="#888" transform="translate(311.4,137.9) rotate(-90)" >% of Max</text>
<text x="366.0" y="20.5" font-size="5.6" text-anchor="start" fill="#333" >Ctr</text>
<text x="366.2" y="26.8" font-size="5.6" text-anchor="start" fill="#333" >iDC</text>
<text x="366.2" y="32.8" font-size="5.6" text-anchor="start" fill="#333" >mDC</text>
<line x1="360" y1="18.5" x2="365" y2="18.5" stroke="#eee" stroke-width="0.8" />
<line x1="360" y1="24.9" x2="365" y2="24.9" stroke="#e4e4e4" stroke-width="0.8" />
<line x1="358" y1="31.4" x2="363" y2="30.6" stroke="#aaa" stroke-width="0.8" />
<text x="0.4" y="9.8" font-size="13.4" font-weight="bold" text-anchor="start" fill="#000" >A</text>
<text x="0" y="0" font-size="11" font-weight="bold" text-anchor="start" fill="#000" transform="translate(10.0,51.0) rotate(-90)" >WT</text>
<text transform="translate(9.5,150.5) rotate(-90)" font-size="10.3" font-weight="bold">BLT1/2<tspan font-size="7" dy="-4.2">-/-</tspan></text>
<text x="50" y="186.1" font-size="10.6" font-weight="bold" text-anchor="middle" fill="#000" >MHC II</text>
<text x="123.7" y="186.1" font-size="10.6" font-weight="bold" text-anchor="middle" fill="#000" >CD86</text>
<text x="198.2" y="186.1" font-size="10.6" font-weight="bold" text-anchor="middle" fill="#000" >CD80</text>
<text x="273.9" y="186.1" font-size="10.6" font-weight="bold" text-anchor="middle" fill="#000" >CD11c</text>
<text x="351.2" y="186.1" font-size="10.6" font-weight="bold" text-anchor="middle" fill="#000" >CCR7</text>
<text x="392.7" y="9.2" font-size="12.8" font-weight="bold" text-anchor="start" fill="#000" >B</text>
<line x1="423.2" y1="13.1" x2="518.5" y2="13.1" stroke="#999" stroke-width="0.8" />
<line x1="518.5" y1="13.1" x2="518.5" y2="92.4" stroke="#999" stroke-width="0.8" />
<rect x="433.5" y="24.287999999999997" width="13.9" height="68.11200000000001" fill="#fff" stroke="#777" stroke-width="0.75"/>
<line x1="440.4" y1="24.287999999999997" x2="440.4" y2="19.007999999999996" stroke="#777" stroke-width="0.7" />
<line x1="438.6" y1="19.007999999999996" x2="442.2" y2="19.007999999999996" stroke="#777" stroke-width="0.7" />
<rect x="447.4" y="35.90400000000001" width="13.2" height="56.495999999999995" fill="#000" stroke="none" stroke-width="1"/>
<rect x="480.6" y="64.15200000000002" width="14.2" height="28.24799999999999" fill="#fff" stroke="#777" stroke-width="0.75"/>
<line x1="487.7" y1="64.15200000000002" x2="487.7" y2="61.51200000000001" stroke="#777" stroke-width="0.7" />
<line x1="486" y1="61.51200000000001" x2="489.4" y2="61.51200000000001" stroke="#777" stroke-width="0.7" />
<rect x="494.8" y="68.11200000000001" width="13.2" height="24.287999999999997" fill="#000" stroke="none" stroke-width="1"/>
<line x1="423.2" y1="13.1" x2="423.2" y2="92.4" stroke="#333" stroke-width="0.8" />
<line x1="423.2" y1="92.4" x2="518.5" y2="92.4" stroke="#333" stroke-width="0.8" />
<line x1="421.2" y1="92.4" x2="423.2" y2="92.4" stroke="#333" stroke-width="0.7" />
<text x="419.4" y="95.10000000000001" font-size="7.8" text-anchor="end" fill="#000" textLength="3.0" lengthAdjust="spacingAndGlyphs">0</text>
<line x1="421.2" y1="66.0" x2="423.2" y2="66.0" stroke="#333" stroke-width="0.7" />
<text x="419.4" y="68.7" font-size="7.8" text-anchor="end" fill="#000" textLength="9.8" lengthAdjust="spacingAndGlyphs">100</text>
<line x1="421.2" y1="39.60000000000001" x2="423.2" y2="39.60000000000001" stroke="#333" stroke-width="0.7" />
<text x="419.4" y="42.30000000000001" font-size="7.8" text-anchor="end" fill="#000" textLength="9.8" lengthAdjust="spacingAndGlyphs">200</text>
<line x1="421.2" y1="13.200000000000003" x2="423.2" y2="13.200000000000003" stroke="#333" stroke-width="0.7" />
<text x="419.4" y="15.900000000000002" font-size="7.8" text-anchor="end" fill="#000" textLength="9.8" lengthAdjust="spacingAndGlyphs">300</text>
<line x1="422.2" y1="79.2" x2="423.2" y2="79.2" stroke="#333" stroke-width="0.6" />
<line x1="422.2" y1="52.800000000000004" x2="423.2" y2="52.800000000000004" stroke="#333" stroke-width="0.6" />
<line x1="422.2" y1="26.400000000000006" x2="423.2" y2="26.400000000000006" stroke="#333" stroke-width="0.6" />
<line x1="470.5" y1="92.4" x2="470.5" y2="93.9" stroke="#333" stroke-width="0.6" />
<text x="447.6" y="105.2" font-size="7.3" text-anchor="middle" fill="#000" >iDC</text>
<text x="494.5" y="105.2" font-size="7.3" text-anchor="middle" fill="#000" >mDC</text>
<rect x="483.4" y="20.7" width="2.5" height="2.6" fill="#fff" stroke="#888" stroke-width="0.6"/>
<text x="487.6" y="23.9" font-size="6.1" text-anchor="start" fill="#000" >WT</text>
<rect x="483.3" y="30.5" width="2.8" height="3.1" fill="#000" stroke="none" stroke-width="1"/>
<text x="488" y="34.1" font-size="6.1" fill="#000">BLT1/2<tspan font-size="3.8" dy="-2.6">-/-</tspan></text>
<text x="0" y="0" font-size="7.45" font-weight="bold" text-anchor="start" fill="#000" transform="translate(400.4,93.0) rotate(-90)" >FITC-dextran uptake</text>
<text x="0" y="0" font-size="6.6" text-anchor="start" fill="#000" transform="translate(407.4,102.8) rotate(-90)" >(mean channel of fluorescence)</text>
<text x="397.6" y="120.5" font-size="12.2" font-weight="bold" text-anchor="start" fill="#000" >C</text>
<line x1="418" y1="123.7" x2="514.4" y2="123.7" stroke="#aaa" stroke-width="0.8" />
<line x1="514.4" y1="123.7" x2="514.4" y2="203.6" stroke="#aaa" stroke-width="0.8" />
<line x1="418" y1="123.7" x2="418" y2="203.6" stroke="#333" stroke-width="0.8" />
<line x1="418" y1="203.6" x2="514.4" y2="203.6" stroke="#333" stroke-width="0.8" />
<line x1="416" y1="203.6" x2="418" y2="203.6" stroke="#333" stroke-width="0.6" />
<text x="0" y="0" font-size="7.8" text-anchor="end" fill="#000" transform="translate(414.8,206.6) scale(0.8,1)" >0</text>
<line x1="416.8" y1="192.29999999999998" x2="418" y2="192.29999999999998" stroke="#333" stroke-width="0.6" />
<line x1="416" y1="181.0" x2="418" y2="181.0" stroke="#333" stroke-width="0.6" />
<text x="0" y="0" font-size="7.8" text-anchor="end" fill="#000" transform="translate(414.8,184.0) scale(0.8,1)" >10</text>
<line x1="416.8" y1="169.7" x2="418" y2="169.7" stroke="#333" stroke-width="0.6" />
<line x1="416" y1="158.4" x2="418" y2="158.4" stroke="#333" stroke-width="0.6" />
<text x="0" y="0" font-size="7.8" text-anchor="end" fill="#000" transform="translate(414.8,161.4) scale(0.8,1)" >20</text>
<line x1="416.8" y1="147.1" x2="418" y2="147.1" stroke="#333" stroke-width="0.6" />
<line x1="416" y1="135.8" x2="418" y2="135.8" stroke="#333" stroke-width="0.6" />
<text x="0" y="0" font-size="7.8" text-anchor="end" fill="#000" transform="translate(414.8,138.8) scale(0.8,1)" >30</text>
<line x1="424.3" y1="203.6" x2="424.3" y2="205.4" stroke="#333" stroke-width="0.6" />
<line x1="437.9" y1="203.6" x2="437.9" y2="205.4" stroke="#333" stroke-width="0.6" />
<line x1="451.6" y1="203.6" x2="451.6" y2="205.4" stroke="#333" stroke-width="0.6" />
<line x1="465.1" y1="203.6" x2="465.1" y2="205.4" stroke="#333" stroke-width="0.6" />
<line x1="478.6" y1="203.6" x2="478.6" y2="205.4" stroke="#333" stroke-width="0.6" />
<line x1="492.4" y1="203.6" x2="492.4" y2="205.4" stroke="#333" stroke-width="0.6" />
<line x1="505.6" y1="203.6" x2="505.6" y2="205.4" stroke="#333" stroke-width="0.6" />
<text x="424.7" y="211" font-size="7.2" text-anchor="middle" fill="#000" >0</text>
<text x="451.8" y="211" font-size="7.2" text-anchor="middle" fill="#000" >0.1</text>
<text x="479.2" y="211" font-size="7.2" text-anchor="middle" fill="#000" >1</text>
<text x="507.4" y="211" font-size="7.2" text-anchor="middle" fill="#000" >10</text>
<text x="465.7" y="218.6" font-size="7.2" text-anchor="middle" fill="#000" >% of mDC</text>
<line x1="424.3" y1="196.5" x2="424.3" y2="199" stroke="#555" stroke-width="0.6" />
<line x1="423.1" y1="196.5" x2="425.5" y2="196.5" stroke="#555" stroke-width="0.6" />
<line x1="423.1" y1="199" x2="425.5" y2="199" stroke="#555" stroke-width="0.6" />
<line x1="424.3" y1="197.5" x2="424.3" y2="199.7" stroke="#555" stroke-width="0.6" />
<line x1="423.1" y1="197.5" x2="425.5" y2="197.5" stroke="#555" stroke-width="0.6" />
<line x1="423.1" y1="199.7" x2="425.5" y2="199.7" stroke="#555" stroke-width="0.6" />
<line x1="437.9" y1="193" x2="437.9" y2="196.5" stroke="#555" stroke-width="0.6" />
<line x1="436.7" y1="193" x2="439.09999999999997" y2="193" stroke="#555" stroke-width="0.6" />
<line x1="436.7" y1="196.5" x2="439.09999999999997" y2="196.5" stroke="#555" stroke-width="0.6" />
<line x1="437.9" y1="191.5" x2="437.9" y2="194" stroke="#555" stroke-width="0.6" />
<line x1="436.7" y1="191.5" x2="439.09999999999997" y2="191.5" stroke="#555" stroke-width="0.6" />
<line x1="436.7" y1="194" x2="439.09999999999997" y2="194" stroke="#555" stroke-width="0.6" />
<line x1="451.6" y1="173.7" x2="451.6" y2="193.3" stroke="#555" stroke-width="0.6" />
<line x1="450.40000000000003" y1="173.7" x2="452.8" y2="173.7" stroke="#555" stroke-width="0.6" />
<line x1="450.40000000000003" y1="193.3" x2="452.8" y2="193.3" stroke="#555" stroke-width="0.6" />
<line x1="451.6" y1="178" x2="451.6" y2="188.5" stroke="#555" stroke-width="0.6" />
<line x1="450.40000000000003" y1="178" x2="452.8" y2="178" stroke="#555" stroke-width="0.6" />
<line x1="450.40000000000003" y1="188.5" x2="452.8" y2="188.5" stroke="#555" stroke-width="0.6" />
<line x1="465.1" y1="155.8" x2="465.1" y2="166.3" stroke="#555" stroke-width="0.6" />
<line x1="463.90000000000003" y1="155.8" x2="466.3" y2="155.8" stroke="#555" stroke-width="0.6" />
<line x1="463.90000000000003" y1="166.3" x2="466.3" y2="166.3" stroke="#555" stroke-width="0.6" />
<line x1="465.1" y1="171" x2="465.1" y2="181.5" stroke="#555" stroke-width="0.6" />
<line x1="463.90000000000003" y1="171" x2="466.3" y2="171" stroke="#555" stroke-width="0.6" />
<line x1="463.90000000000003" y1="181.5" x2="466.3" y2="181.5" stroke="#555" stroke-width="0.6" />
<line x1="478.6" y1="163.5" x2="478.6" y2="166.5" stroke="#555" stroke-width="0.6" />
<line x1="477.40000000000003" y1="163.5" x2="479.8" y2="163.5" stroke="#555" stroke-width="0.6" />
<line x1="477.40000000000003" y1="166.5" x2="479.8" y2="166.5" stroke="#555" stroke-width="0.6" />
<line x1="478.6" y1="151.5" x2="478.6" y2="153.7" stroke="#555" stroke-width="0.6" />
<line x1="477.40000000000003" y1="151.5" x2="479.8" y2="151.5" stroke="#555" stroke-width="0.6" />
<line x1="477.40000000000003" y1="153.7" x2="479.8" y2="153.7" stroke="#555" stroke-width="0.6" />
<line x1="492.4" y1="150.8" x2="492.4" y2="158" stroke="#555" stroke-width="0.6" />
<line x1="491.2" y1="150.8" x2="493.59999999999997" y2="150.8" stroke="#555" stroke-width="0.6" />
<line x1="491.2" y1="158" x2="493.59999999999997" y2="158" stroke="#555" stroke-width="0.6" />
<line x1="492.4" y1="141.3" x2="492.4" y2="143.3" stroke="#555" stroke-width="0.6" />
<line x1="491.2" y1="141.3" x2="493.59999999999997" y2="141.3" stroke="#555" stroke-width="0.6" />
<line x1="491.2" y1="143.3" x2="493.59999999999997" y2="143.3" stroke="#555" stroke-width="0.6" />
<line x1="505.6" y1="142" x2="505.6" y2="149.3" stroke="#555" stroke-width="0.6" />
<line x1="504.40000000000003" y1="142" x2="506.8" y2="142" stroke="#555" stroke-width="0.6" />
<line x1="504.40000000000003" y1="149.3" x2="506.8" y2="149.3" stroke="#555" stroke-width="0.6" />
<line x1="505.6" y1="140" x2="505.6" y2="147" stroke="#555" stroke-width="0.6" />
<line x1="504.40000000000003" y1="140" x2="506.8" y2="140" stroke="#555" stroke-width="0.6" />
<line x1="504.40000000000003" y1="147" x2="506.8" y2="147" stroke="#555" stroke-width="0.6" />
<polyline points="424.3,197.7 437.9,194.8 451.6,180.1 465.1,161.9 478.6,164.9 492.4,154.6 505.6,147.3" fill="none" stroke="#666" stroke-width="0.8" stroke-linejoin="round" />
<polyline points="424.3,198.6 437.9,192.7 451.6,183.3 465.1,176.3 478.6,152.6 492.4,142.3 505.6,143.5" fill="none" stroke="#333" stroke-width="0.8" stroke-linejoin="round" />
<circle cx="424.3" cy="197.7" r="1.8" fill="#fff" stroke="#555" stroke-width="0.7"/>
<circle cx="437.9" cy="194.8" r="1.8" fill="#fff" stroke="#555" stroke-width="0.7"/>
<circle cx="451.6" cy="180.1" r="1.8" fill="#fff" stroke="#555" stroke-width="0.7"/>
<circle cx="465.1" cy="161.9" r="1.8" fill="#fff" stroke="#555" stroke-width="0.7"/>
<circle cx="478.6" cy="164.9" r="1.8" fill="#fff" stroke="#555" stroke-width="0.7"/>
<circle cx="492.4" cy="154.6" r="1.8" fill="#fff" stroke="#555" stroke-width="0.7"/>
<circle cx="505.6" cy="147.3" r="1.8" fill="#fff" stroke="#555" stroke-width="0.7"/>
<circle cx="424.3" cy="198.6" r="1.9" fill="#000"/>
<circle cx="437.9" cy="192.7" r="1.9" fill="#000"/>
<circle cx="451.6" cy="183.3" r="1.9" fill="#000"/>
<circle cx="465.1" cy="176.3" r="1.9" fill="#000"/>
<circle cx="478.6" cy="152.6" r="1.9" fill="#000"/>
<circle cx="492.4" cy="142.3" r="1.9" fill="#000"/>
<circle cx="505.6" cy="143.5" r="1.9" fill="#000"/>
<line x1="424" y1="132.2" x2="436.3" y2="132.2" stroke="#888" stroke-width="0.8" />
<circle cx="430.5" cy="132.2" r="1.5" fill="#fff" stroke="#555" stroke-width="0.6"/>
<text x="437.0" y="134.6" font-size="7.6" text-anchor="start" fill="#000" >WT</text>
<line x1="424" y1="141.6" x2="436.3" y2="141.6" stroke="#444" stroke-width="0.8" />
<circle cx="430" cy="141.6" r="1.6" fill="#000"/>
<text x="437.2" y="144.3" font-size="7.6" fill="#000">BLT1/2<tspan font-size="4.4" dy="-3.2">-/-</tspan></text>
<text transform="translate(404.5,207.6) rotate(-90)" font-size="6.7" fill="#000">cpm of [<tspan font-size="4.1" dy="-2.8">3</tspan><tspan dy="2.8">H]-thymidine x 10</tspan><tspan font-size="4.1" dy="-2.8">4</tspan></text>
<text x="1.2" y="241.7" font-size="12.2" font-weight="bold" text-anchor="start" fill="#000" >D</text>
<line x1="14.4" y1="246.3" x2="105.6" y2="246.3" stroke="#aaa" stroke-width="0.8" />
<line x1="105.6" y1="246.3" x2="105.6" y2="324.2" stroke="#aaa" stroke-width="0.8" />
<line x1="14.4" y1="246.3" x2="14.4" y2="324.2" stroke="#888" stroke-width="0.8" />
<line x1="14.4" y1="324.2" x2="105.6" y2="324.2" stroke="#888" stroke-width="0.8" />
<line x1="13.4" y1="324.2" x2="14.4" y2="324.2" stroke="#777" stroke-width="0.6" />
<text x="0" y="0" font-size="7.0" text-anchor="middle" fill="#000" transform="translate(11.0,326.59999999999997) scale(0.6,1)" >0</text>
<line x1="13.4" y1="307.2" x2="14.4" y2="307.2" stroke="#777" stroke-width="0.6" />
<text x="0" y="0" font-size="7.0" text-anchor="middle" fill="#000" transform="translate(11.0,309.59999999999997) scale(0.6,1)" >1</text>
<line x1="13.4" y1="290.2" x2="14.4" y2="290.2" stroke="#777" stroke-width="0.6" />
<text x="0" y="0" font-size="7.0" text-anchor="middle" fill="#000" transform="translate(11.0,292.59999999999997) scale(0.6,1)" >2</text>
<line x1="13.4" y1="273.2" x2="14.4" y2="273.2" stroke="#777" stroke-width="0.6" />
<text x="0" y="0" font-size="7.0" text-anchor="middle" fill="#000" transform="translate(11.0,275.59999999999997) scale(0.6,1)" >3</text>
<line x1="13.4" y1="256.2" x2="14.4" y2="256.2" stroke="#777" stroke-width="0.6" />
<text x="0" y="0" font-size="7.0" text-anchor="middle" fill="#000" transform="translate(11.0,258.59999999999997) scale(0.6,1)" >4</text>
<line x1="13.6" y1="315.7" x2="14.4" y2="315.7" stroke="#888" stroke-width="0.5" />
<line x1="13.6" y1="298.7" x2="14.4" y2="298.7" stroke="#888" stroke-width="0.5" />
<line x1="13.6" y1="281.7" x2="14.4" y2="281.7" stroke="#888" stroke-width="0.5" />
<line x1="13.6" y1="264.7" x2="14.4" y2="264.7" stroke="#888" stroke-width="0.5" />
<line x1="14.6" y1="324.2" x2="14.6" y2="325.4" stroke="#777" stroke-width="0.6" />
<text x="0" y="0" font-size="6.4" text-anchor="middle" fill="#000" transform="translate(14.4,332.6) scale(0.7,1)" >1</text>
<line x1="30.54" y1="324.2" x2="30.54" y2="325.4" stroke="#777" stroke-width="0.6" />
<text x="0" y="0" font-size="6.4" text-anchor="middle" fill="#000" transform="translate(30.340000000000003,332.6) scale(0.7,1)" >21</text>
<line x1="46.480000000000004" y1="324.2" x2="46.480000000000004" y2="325.4" stroke="#777" stroke-width="0.6" />
<text x="0" y="0" font-size="6.4" text-anchor="middle" fill="#000" transform="translate(46.28,332.6) scale(0.7,1)" >41</text>
<line x1="62.42" y1="324.2" x2="62.42" y2="325.4" stroke="#777" stroke-width="0.6" />
<text x="0" y="0" font-size="6.4" text-anchor="middle" fill="#000" transform="translate(62.22,332.6) scale(0.7,1)" >61</text>
<line x1="78.36" y1="324.2" x2="78.36" y2="325.4" stroke="#777" stroke-width="0.6" />
<text x="0" y="0" font-size="6.4" text-anchor="middle" fill="#000" transform="translate(78.16000000000001,332.6) scale(0.7,1)" >81</text>
<line x1="94.3" y1="324.2" x2="94.3" y2="325.4" stroke="#777" stroke-width="0.6" />
<text x="0" y="0" font-size="6.4" text-anchor="middle" fill="#000" transform="translate(94.10000000000001,332.6) scale(0.7,1)" >101</text>
<line x1="22.57" y1="324.2" x2="22.57" y2="325.0" stroke="#888" stroke-width="0.5" />
<line x1="38.51" y1="324.2" x2="38.51" y2="325.0" stroke="#888" stroke-width="0.5" />
<line x1="54.45" y1="324.2" x2="54.45" y2="325.0" stroke="#888" stroke-width="0.5" />
<line x1="70.39" y1="324.2" x2="70.39" y2="325.0" stroke="#888" stroke-width="0.5" />
<line x1="86.33" y1="324.2" x2="86.33" y2="325.0" stroke="#888" stroke-width="0.5" />
<text x="0" y="0" font-size="8.0" text-anchor="middle" fill="#000" transform="translate(56.3,338.4) scale(0.73,1)" >Time (seconds)</text>
<text x="0" y="0" font-size="7.4" text-anchor="start" fill="#000" transform="translate(7.0,296.0) rotate(-90)" >R atio</text>
<text x="0" y="0" font-size="8.0" font-weight="bold" text-anchor="start" fill="#000" transform="translate(16.7,255.6) scale(0.78,1)" >WT</text>
<polyline points="14.6,295.8 20.0,295.6 25.0,295.9 30.0,295.6 35.0,295.7 40.0,295.6 42.5,295.5 43.3,294.0 44.3,286.0 45.3,281.5 46.5,279.8 47.8,281.0 49.5,284.5 51.3,288.0 53.5,291.0 56.2,293.3 59.0,294.5 62.0,295.0 70.0,295.1 80.0,295.1 85.0,294.8 86.0,292.3 86.8,294.5 87.8,292.0 88.8,294.8 92.5,294.9 93.6,294.0 94.2,256.0 95.2,255.2 96.0,256.5 97.5,255.0 99.0,256.4 100.5,254.8 102.0,256.3 103.5,255.0 105.0,255.8" fill="none" stroke="#a0a0a0" stroke-width="0.9" stroke-linejoin="round" />
<text x="0" y="0" font-size="7" text-anchor="middle" fill="#000" transform="translate(40.1,274.2) scale(0.8,1)" >LTB<tspan font-size="4.2" dy="1.2">4</tspan></text>
<line x1="40.2" y1="279.2" x2="40.2" y2="290" stroke="#000" stroke-width="0.9" />
<path d="M38.4,287.6 L40.2,292 L42,287.6 Z" fill="#000"/>
<text x="0" y="0" font-size="7" text-anchor="middle" fill="#000" transform="translate(87.9,273.4) scale(0.8,1)" >Triton</text>
<line x1="87.9" y1="279.2" x2="87.9" y2="289.5" stroke="#000" stroke-width="0.9" />
<path d="M86.1,287.2 L87.9,291.5 L89.7,287.2 Z" fill="#000"/>
<text x="135" y="244.7" font-size="12.2" font-weight="bold" text-anchor="start" fill="#000" >E</text>
<line x1="148.9" y1="247.0" x2="239.5" y2="247.0" stroke="#aaa" stroke-width="0.8" />
<line x1="239.5" y1="247.0" x2="239.5" y2="324.1" stroke="#aaa" stroke-width="0.8" />
<line x1="148.9" y1="247.0" x2="148.9" y2="324.1" stroke="#888" stroke-width="0.8" />
<line x1="148.9" y1="324.1" x2="239.5" y2="324.1" stroke="#888" stroke-width="0.8" />
<line x1="147.9" y1="324.1" x2="148.9" y2="324.1" stroke="#777" stroke-width="0.6" />
<text x="0" y="0" font-size="7.0" text-anchor="middle" fill="#000" transform="translate(145.7,326.5) scale(0.6,1)" >0</text>
<line x1="147.9" y1="307.0" x2="148.9" y2="307.0" stroke="#777" stroke-width="0.6" />
<text x="0" y="0" font-size="7.0" text-anchor="middle" fill="#000" transform="translate(145.7,309.4) scale(0.6,1)" >1</text>
<line x1="147.9" y1="289.90000000000003" x2="148.9" y2="289.90000000000003" stroke="#777" stroke-width="0.6" />
<text x="0" y="0" font-size="7.0" text-anchor="middle" fill="#000" transform="translate(145.7,292.3) scale(0.6,1)" >2</text>
<line x1="147.9" y1="272.8" x2="148.9" y2="272.8" stroke="#777" stroke-width="0.6" />
<text x="0" y="0" font-size="7.0" text-anchor="middle" fill="#000" transform="translate(145.7,275.2) scale(0.6,1)" >3</text>
<line x1="147.9" y1="255.70000000000002" x2="148.9" y2="255.70000000000002" stroke="#777" stroke-width="0.6" />
<text x="0" y="0" font-size="7.0" text-anchor="middle" fill="#000" transform="translate(145.7,258.1) scale(0.6,1)" >4</text>
<line x1="148.1" y1="315.55" x2="148.9" y2="315.55" stroke="#888" stroke-width="0.5" />
<line x1="148.1" y1="298.45000000000005" x2="148.9" y2="298.45000000000005" stroke="#888" stroke-width="0.5" />
<line x1="148.1" y1="281.35" x2="148.9" y2="281.35" stroke="#888" stroke-width="0.5" />
<line x1="148.1" y1="264.25" x2="148.9" y2="264.25" stroke="#888" stroke-width="0.5" />
<line x1="150.4" y1="324.1" x2="150.4" y2="325.3" stroke="#777" stroke-width="0.6" />
<text x="0" y="0" font-size="6.4" text-anchor="middle" fill="#000" transform="translate(149.9,331.6) scale(0.7,1)" >1</text>
<line x1="166.12" y1="324.1" x2="166.12" y2="325.3" stroke="#777" stroke-width="0.6" />
<text x="0" y="0" font-size="6.4" text-anchor="middle" fill="#000" transform="translate(165.9,331.6) scale(0.7,1)" >21</text>
<line x1="181.84" y1="324.1" x2="181.84" y2="325.3" stroke="#777" stroke-width="0.6" />
<text x="0" y="0" font-size="6.4" text-anchor="middle" fill="#000" transform="translate(181.9,331.6) scale(0.7,1)" >41</text>
<line x1="197.56" y1="324.1" x2="197.56" y2="325.3" stroke="#777" stroke-width="0.6" />
<text x="0" y="0" font-size="6.4" text-anchor="middle" fill="#000" transform="translate(197.9,331.6) scale(0.7,1)" >61</text>
<line x1="213.28" y1="324.1" x2="213.28" y2="325.3" stroke="#777" stroke-width="0.6" />
<text x="0" y="0" font-size="6.4" text-anchor="middle" fill="#000" transform="translate(213.9,331.6) scale(0.7,1)" >81</text>
<line x1="229.0" y1="324.1" x2="229.0" y2="325.3" stroke="#777" stroke-width="0.6" />
<text x="0" y="0" font-size="6.4" text-anchor="middle" fill="#000" transform="translate(229.9,331.6) scale(0.7,1)" >101</text>
<line x1="158.26000000000002" y1="324.1" x2="158.26000000000002" y2="324.90000000000003" stroke="#888" stroke-width="0.5" />
<line x1="173.98000000000002" y1="324.1" x2="173.98000000000002" y2="324.90000000000003" stroke="#888" stroke-width="0.5" />
<line x1="189.70000000000002" y1="324.1" x2="189.70000000000002" y2="324.90000000000003" stroke="#888" stroke-width="0.5" />
<line x1="205.42000000000002" y1="324.1" x2="205.42000000000002" y2="324.90000000000003" stroke="#888" stroke-width="0.5" />
<line x1="221.14000000000001" y1="324.1" x2="221.14000000000001" y2="324.90000000000003" stroke="#888" stroke-width="0.5" />
<text x="0" y="0" font-size="8.0" text-anchor="middle" fill="#000" transform="translate(191.1,337.0) scale(0.73,1)" >Time (seconds)</text>
<text x="0" y="0" font-size="7.4" text-anchor="start" fill="#000" transform="translate(142.7,298.4) rotate(-90)" >R atio</text>
<text transform="translate(151.4,256.4) scale(0.86,1)" font-size="7.0" font-weight="bold">BLT1/2<tspan font-size="4.6" dy="-3.0" font-weight="normal">-/-</tspan></text>
<polyline points="149.0,297.8 226.0,297.4 227.2,297.0 229.0,255.6 239.3,255.4" fill="none" stroke="#a0a0a0" stroke-width="0.9" stroke-linejoin="round" />
<text x="0" y="0" font-size="7" text-anchor="middle" fill="#000" transform="translate(174.8,275.4) scale(0.8,1)" >LTB<tspan font-size="4.2" dy="1.2">4</tspan></text>
<line x1="175.6" y1="280" x2="175.6" y2="291.5" stroke="#000" stroke-width="0.9" />
<path d="M173.8,289 L175.6,293.4 L177.4,289 Z" fill="#000"/>
<text x="0" y="0" font-size="7" text-anchor="middle" fill="#000" transform="translate(222,275.4) scale(0.8,1)" >Triton</text>
<line x1="222.4" y1="280" x2="222.4" y2="291.5" stroke="#000" stroke-width="0.9" />
<path d="M220.6,289 L222.4,293.4 L224.2,289 Z" fill="#000"/>
<text x="261.2" y="245.9" font-size="12.2" font-weight="bold" text-anchor="start" fill="#000" >F</text>
<line x1="280.3" y1="247.5" x2="375.6" y2="247.5" stroke="#aaa" stroke-width="0.8" />
<line x1="375.6" y1="247.5" x2="375.6" y2="324.45" stroke="#aaa" stroke-width="0.8" />
<rect x="287.3" y="321.83369999999996" width="8.4" height="2.616300000000024" fill="#c0c0c0" stroke="#666" stroke-width="0.4"/>
<line x1="291.5" y1="321.83369999999996" x2="291.5" y2="320.9103" stroke="#777" stroke-width="0.6" />
<line x1="290.0" y1="320.9103" x2="293.0" y2="320.9103" stroke="#777" stroke-width="0.6" />
<rect x="296.0" y="318.9096" width="9.0" height="5.540399999999977" fill="#303030" stroke="none" stroke-width="0.4"/>
<line x1="300.5" y1="318.9096" x2="300.5" y2="315.9855" stroke="#777" stroke-width="0.6" />
<line x1="299.0" y1="315.9855" x2="302.0" y2="315.9855" stroke="#777" stroke-width="0.6" />
<rect x="318.3" y="282.1275" width="9.4" height="42.32249999999999" fill="#c0c0c0" stroke="#666" stroke-width="0.4"/>
<line x1="323.0" y1="282.1275" x2="323.0" y2="276.8949" stroke="#777" stroke-width="0.6" />
<line x1="321.5" y1="276.8949" x2="324.5" y2="276.8949" stroke="#777" stroke-width="0.6" />
<rect x="327.7" y="268.1226" width="9.7" height="56.32740000000001" fill="#303030" stroke="none" stroke-width="0.4"/>
<line x1="332.55" y1="268.1226" x2="332.55" y2="258.1191" stroke="#777" stroke-width="0.6" />
<line x1="331.05" y1="258.1191" x2="334.05" y2="258.1191" stroke="#777" stroke-width="0.6" />
<rect x="350.5" y="283.0509" width="9.3" height="41.399099999999976" fill="#c0c0c0" stroke="#666" stroke-width="0.4"/>
<line x1="355.15" y1="283.0509" x2="355.15" y2="275.3559" stroke="#777" stroke-width="0.6" />
<line x1="353.65" y1="275.3559" x2="356.65" y2="275.3559" stroke="#777" stroke-width="0.6" />
<rect x="359.8" y="323.2188" width="9.3" height="1.2312000000000012" fill="#303030" stroke="none" stroke-width="0.4"/>
<line x1="280.3" y1="247.5" x2="280.3" y2="324.45" stroke="#444" stroke-width="0.8" />
<line x1="280.3" y1="324.45" x2="375.6" y2="324.45" stroke="#444" stroke-width="0.8" />
<line x1="278.5" y1="324.45" x2="280.3" y2="324.45" stroke="#444" stroke-width="0.6" />
<text x="0" y="0" font-size="6.8" text-anchor="middle" fill="#000" transform="translate(275.9,326.95) scale(0.78,1)" >0</text>
<line x1="278.5" y1="309.06" x2="280.3" y2="309.06" stroke="#444" stroke-width="0.6" />
<text x="0" y="0" font-size="6.8" text-anchor="middle" fill="#000" transform="translate(275.9,311.56) scale(0.78,1)" >10</text>
<line x1="278.5" y1="293.67" x2="280.3" y2="293.67" stroke="#444" stroke-width="0.6" />
<text x="0" y="0" font-size="6.8" text-anchor="middle" fill="#000" transform="translate(275.9,296.17) scale(0.78,1)" >20</text>
<line x1="278.5" y1="278.28" x2="280.3" y2="278.28" stroke="#444" stroke-width="0.6" />
<text x="0" y="0" font-size="6.8" text-anchor="middle" fill="#000" transform="translate(275.9,280.78) scale(0.78,1)" >30</text>
<line x1="278.5" y1="262.89" x2="280.3" y2="262.89" stroke="#444" stroke-width="0.6" />
<text x="0" y="0" font-size="6.8" text-anchor="middle" fill="#000" transform="translate(275.9,265.39) scale(0.78,1)" >40</text>
<line x1="278.5" y1="247.5" x2="280.3" y2="247.5" stroke="#444" stroke-width="0.6" />
<text x="0" y="0" font-size="6.8" text-anchor="middle" fill="#000" transform="translate(275.9,250.0) scale(0.78,1)" >50</text>
<line x1="308" y1="324.45" x2="308" y2="326.05" stroke="#444" stroke-width="0.6" />
<line x1="343" y1="324.45" x2="343" y2="326.05" stroke="#444" stroke-width="0.6" />
<text x="286.8" y="261.2" font-size="7.4" font-weight="bold" text-anchor="start" fill="#000" >iDC</text>
<rect x="347.4" y="251.8" width="2.6" height="3.5" fill="#c0c0c0" stroke="#888" stroke-width="0.4"/>
<text x="351.9" y="256.2" font-size="6.2" text-anchor="start" fill="#000" >WT</text>
<rect x="347.8" y="260.5" width="2.3" height="3.4" fill="#303030" stroke="none" stroke-width="1"/>
<text x="351.9" y="264.6" font-size="6.2" fill="#000">BLT1/2<tspan font-size="3.8" dy="-2.6">-/-</tspan></text>
<text x="301.1" y="331.8" font-size="7.5" text-anchor="middle" fill="#000" >medium</text>
<text x="330.9" y="331.6" font-size="7.5" text-anchor="middle" fill="#000" >CCL3</text>
<text x="361.6" y="331.6" font-size="7.5" text-anchor="middle" fill="#000">LTB<tspan font-size="4.8" dy="1.5">4</tspan></text>
<text x="0" y="0" font-size="6.85" text-anchor="start" fill="#000" transform="translate(267.9,324.7) rotate(-90)" >Number of migrated cells</text>
<text x="403" y="244.4" font-size="12.2" font-weight="bold" text-anchor="start" fill="#000" >G</text>
<line x1="421.6" y1="247.5" x2="515.2" y2="247.5" stroke="#aaa" stroke-width="0.8" />
<line x1="515.2" y1="247.5" x2="515.2" y2="324.35" stroke="#aaa" stroke-width="0.8" />
<rect x="427.7" y="323.8376666666667" width="8.3" height="0.5123333333333449" fill="#c0c0c0" stroke="#666" stroke-width="0.4"/>
<line x1="431.84999999999997" y1="323.8376666666667" x2="431.84999999999997" y2="323.62419444444447" stroke="#777" stroke-width="0.6" />
<line x1="430.34999999999997" y1="323.62419444444447" x2="433.34999999999997" y2="323.62419444444447" stroke="#777" stroke-width="0.6" />
<rect x="436.4" y="322.2152777777778" width="9.9" height="2.1347222222221944" fill="#303030" stroke="none" stroke-width="0.4"/>
<line x1="441.34999999999997" y1="322.2152777777778" x2="441.34999999999997" y2="321.4467777777778" stroke="#777" stroke-width="0.6" />
<line x1="439.84999999999997" y1="321.4467777777778" x2="442.84999999999997" y2="321.4467777777778" stroke="#777" stroke-width="0.6" />
<rect x="459.3" y="266.28555555555556" width="9.3" height="58.06444444444446" fill="#c0c0c0" stroke="#666" stroke-width="0.4"/>
<line x1="463.95" y1="266.28555555555556" x2="463.95" y2="254.3311111111111" stroke="#777" stroke-width="0.6" />
<line x1="462.45" y1="254.3311111111111" x2="465.45" y2="254.3311111111111" stroke="#777" stroke-width="0.6" />
<rect x="468.6" y="278.24" width="9.4" height="46.110000000000014" fill="#303030" stroke="none" stroke-width="0.4"/>
<line x1="473.3" y1="278.24" x2="473.3" y2="266.28555555555556" stroke="#777" stroke-width="0.6" />
<line x1="471.8" y1="266.28555555555556" x2="474.8" y2="266.28555555555556" stroke="#777" stroke-width="0.6" />
<rect x="491.4" y="303.21625" width="9.3" height="21.13375000000002" fill="#c0c0c0" stroke="#666" stroke-width="0.4"/>
<line x1="496.04999999999995" y1="303.21625" x2="496.04999999999995" y2="295.53125" stroke="#777" stroke-width="0.6" />
<line x1="494.54999999999995" y1="295.53125" x2="497.54999999999995" y2="295.53125" stroke="#777" stroke-width="0.6" />
<rect x="500.7" y="323.23994444444446" width="8.3" height="1.1100555555555616" fill="#303030" stroke="none" stroke-width="0.4"/>
<line x1="421.6" y1="247.5" x2="421.6" y2="324.35" stroke="#444" stroke-width="0.8" />
<line x1="421.6" y1="324.35" x2="515.2" y2="324.35" stroke="#444" stroke-width="0.8" />
<line x1="419.8" y1="324.35" x2="421.6" y2="324.35" stroke="#444" stroke-width="0.6" />
<text x="0" y="0" font-size="6.8" text-anchor="middle" fill="#000" transform="translate(415.8,326.85) scale(0.78,1)" >0</text>
<line x1="419.8" y1="307.27222222222224" x2="421.6" y2="307.27222222222224" stroke="#444" stroke-width="0.6" />
<text x="0" y="0" font-size="6.8" text-anchor="middle" fill="#000" transform="translate(415.8,309.77222222222224) scale(0.78,1)" >40</text>
<line x1="419.8" y1="290.19444444444446" x2="421.6" y2="290.19444444444446" stroke="#444" stroke-width="0.6" />
<text x="0" y="0" font-size="6.8" text-anchor="middle" fill="#000" transform="translate(415.8,292.69444444444446) scale(0.78,1)" >80</text>
<line x1="419.8" y1="273.1166666666667" x2="421.6" y2="273.1166666666667" stroke="#444" stroke-width="0.6" />
<text x="0" y="0" font-size="6.8" text-anchor="middle" fill="#000" transform="translate(415.8,275.6166666666667) scale(0.78,1)" >120</text>
<line x1="419.8" y1="256.0388888888889" x2="421.6" y2="256.0388888888889" stroke="#444" stroke-width="0.6" />
<text x="0" y="0" font-size="6.8" text-anchor="middle" fill="#000" transform="translate(415.8,258.5388888888889) scale(0.78,1)" >160</text>
<line x1="448" y1="324.35" x2="448" y2="325.95000000000005" stroke="#444" stroke-width="0.6" />
<line x1="488" y1="324.35" x2="488" y2="325.95000000000005" stroke="#444" stroke-width="0.6" />
<text x="428.4" y="260.6" font-size="7.4" font-weight="bold" text-anchor="start" fill="#000" >mDC</text>
<rect x="485.8" y="251.7" width="2.6" height="3.4" fill="#c0c0c0" stroke="#888" stroke-width="0.4"/>
<text x="490.1" y="255.9" font-size="6.2" text-anchor="start" fill="#000" >WT</text>
<rect x="486.1" y="260.2" width="2.3" height="3.5" fill="#303030" stroke="none" stroke-width="1"/>
<text x="490.1" y="264.3" font-size="6.2" fill="#000">BLT1/2<tspan font-size="3.8" dy="-2.6">-/-</tspan></text>
<text x="442.0" y="333.2" font-size="7.5" text-anchor="middle" fill="#000" >medium</text>
<text x="472.8" y="332.6" font-size="7.5" text-anchor="middle" fill="#000" >CCL19</text>
<text x="501.4" y="332.6" font-size="7.5" text-anchor="middle" fill="#000">LTB<tspan font-size="4.8" dy="1.5">4</tspan></text>
<text x="0" y="0" font-size="6.85" text-anchor="start" fill="#000" transform="translate(409.6,326) rotate(-90)" >Number of migrated cells</text>
</g></svg>
</body></html>
